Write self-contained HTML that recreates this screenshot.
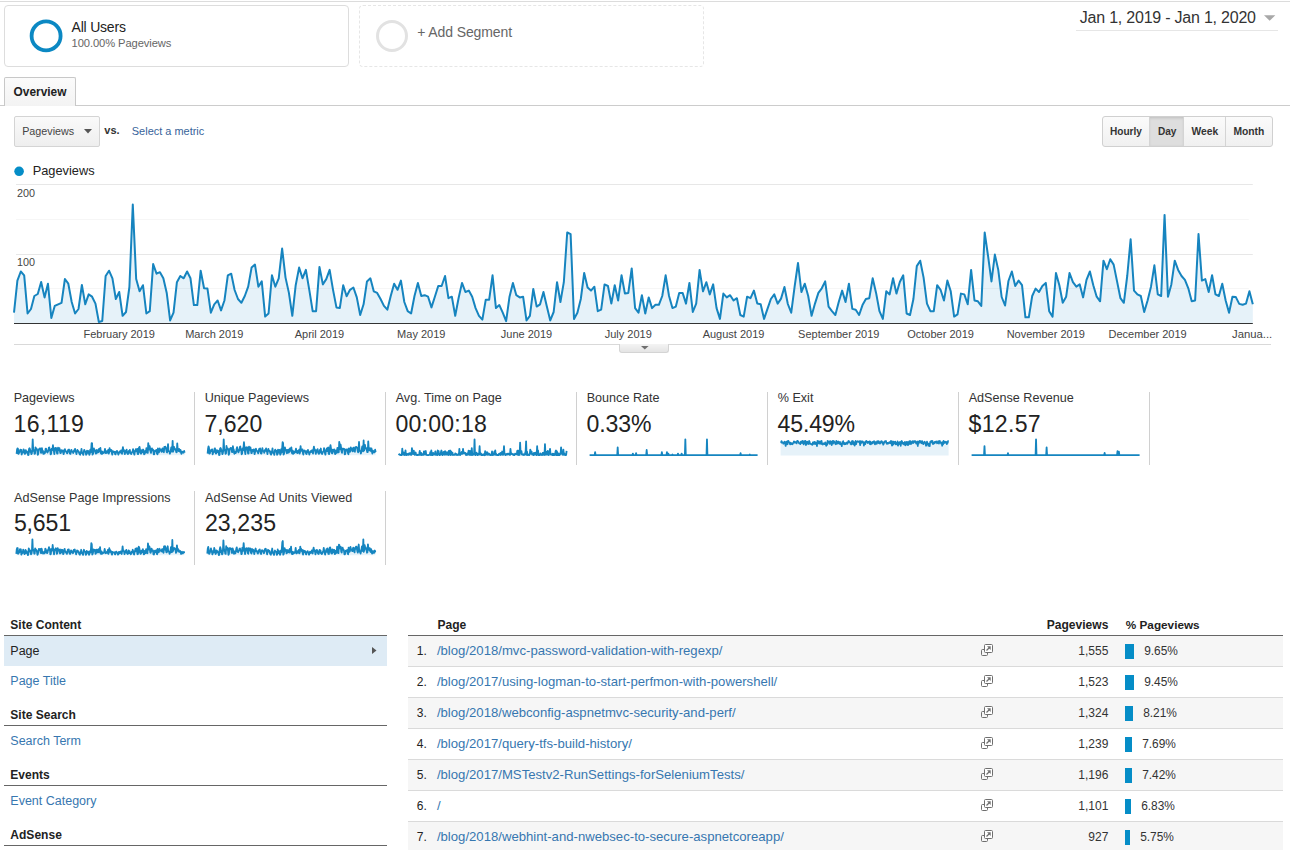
<!DOCTYPE html>
<html><head><meta charset="utf-8"><title>Analytics - Site Content</title>
<style>
html,body{margin:0;padding:0;background:#fff;}
body{width:1290px;height:850px;overflow:hidden;position:relative;font-family:"Liberation Sans", Arial, sans-serif;}
.t{position:absolute;line-height:1;white-space:nowrap;}
.r{position:absolute;}
</style></head><body>
<div class="r" style="left:0px;top:1px;width:1290px;height:1px;background:#dcdcdc"></div>
<div class="r" style="left:4px;top:5px;width:345px;height:62px;border:1px solid #dddddd;border-radius:4px;box-sizing:border-box;background:#fff"></div>
<svg class="r" style="left:28px;top:18px" width="36" height="36"><circle cx="18.1" cy="17.9" r="14.5" fill="none" stroke="#0b88c3" stroke-width="3.8"/></svg>
<div class="r" style="left:359px;top:5px;width:345px;height:62px;border:1px dashed #e6e6e6;border-radius:4px;box-sizing:border-box"></div>
<svg class="r" style="left:374px;top:18px" width="36" height="36"><circle cx="18" cy="18" r="14.5" fill="none" stroke="#e2e2e2" stroke-width="3"/></svg>
<svg class="r" style="left:1263px;top:15px" width="14" height="7"><path d="M1 0.3 L12.3 0.3 L6.65 5.8 Z" fill="#a8a8a8"/></svg>
<div class="r" style="left:1076px;top:30px;width:202px;height:1px;background:#e6e6e6"></div>
<div class="r" style="left:0px;top:105px;width:1290px;height:1px;background:#cccccc"></div>
<div class="r" style="left:4px;top:77px;width:72px;height:29px;border:1px solid #c8c8c8;border-bottom:none;box-sizing:border-box;background:linear-gradient(#fbfbfb,#f3f3f3);border-radius:2px 2px 0 0"></div>
<div class="r" style="left:14px;top:116px;width:86px;height:31px;border:1px solid #d4d4d4;border-radius:2px;box-sizing:border-box;background:linear-gradient(#fafafa,#eeeeee)"></div>
<svg class="r" style="left:84px;top:129px" width="9" height="5"><path d="M0 0 L8 0 L4 4.5 Z" fill="#555"/></svg>
<div class="r" style="left:1102px;top:116px;width:171px;height:31px;border:1px solid #d0d0d0;border-radius:3px;box-sizing:border-box;background:linear-gradient(#fbfbfb,#f0f0f0)"></div>
<div class="r" style="left:1149px;top:117px;width:35px;height:29px;background:#dedede;box-shadow:inset 0 1px 3px rgba(0,0,0,0.15)"></div>
<div class="r" style="left:1149px;top:117px;width:1px;height:29px;background:#d4d4d4"></div>
<div class="r" style="left:1183px;top:117px;width:1px;height:29px;background:#d4d4d4"></div>
<div class="r" style="left:1225px;top:117px;width:1px;height:29px;background:#d4d4d4"></div>
<svg class="r" style="left:14px;top:166px" width="11" height="11"><circle cx="5.1" cy="5.3" r="4.8" fill="#058dc7"/></svg>
<svg class="r" style="left:0;top:180px" width="1290" height="180" viewBox="0 180 1290 180"><polygon points="14.0,323.5 14.00,312.7 17.39,280.6 20.79,271.5 24.18,275.3 27.58,313.5 30.97,309.0 34.36,296.0 37.76,294.0 41.15,282.0 44.55,297.4 47.94,283.7 51.33,318.0 54.73,305.9 58.12,304.3 61.52,302.8 64.91,279.0 68.30,283.7 71.70,302.0 75.09,313.5 78.49,309.0 81.88,285.0 85.27,304.3 88.67,294.4 92.06,296.7 95.46,303.6 98.85,322.0 102.24,321.0 105.64,276.0 109.03,270.7 112.43,278.3 115.82,299.0 119.21,292.0 122.61,315.8 126.00,312.0 129.40,287.0 132.79,204.5 136.18,279.1 139.58,291.3 142.97,285.2 146.37,313.5 149.76,311.2 153.15,264.1 156.55,273.7 159.94,272.2 163.34,278.3 166.73,292.9 170.12,320.4 173.52,312.7 176.91,282.2 180.31,276.0 183.70,278.3 187.09,271.5 190.49,278.3 193.88,305.1 197.28,305.1 200.67,270.7 204.06,288.3 207.46,288.6 210.85,312.7 214.25,304.3 217.64,300.5 221.03,310.4 224.43,300.5 227.82,275.3 231.22,273.7 234.61,290.0 238.00,299.0 241.40,302.8 244.79,296.0 248.19,286.7 251.58,267.6 254.97,264.6 258.37,286.7 261.76,281.4 265.16,316.6 268.55,313.5 271.94,275.3 275.34,286.7 278.73,278.3 282.13,248.5 285.52,277.6 288.91,292.9 292.31,315.8 295.70,285.2 299.10,267.6 302.49,278.3 305.88,269.9 309.28,289.8 312.67,311.2 316.07,311.2 319.46,266.9 322.85,284.4 326.25,279.1 329.64,269.9 333.04,289.8 336.43,307.4 339.82,308.1 343.22,285.2 346.61,296.3 350.01,289.8 353.40,287.5 356.79,297.4 360.19,315.0 363.58,304.3 366.98,281.4 370.37,278.3 373.76,291.3 377.16,292.9 380.55,299.0 383.95,305.9 387.34,309.7 390.73,296.0 394.13,283.7 397.52,289.8 400.92,280.6 404.31,302.0 407.70,311.2 411.10,313.5 414.49,296.0 417.89,282.9 421.28,296.0 424.67,295.2 428.07,296.7 431.46,307.4 434.86,296.7 438.25,286.0 441.64,286.0 445.04,276.0 448.43,298.2 451.83,296.7 455.22,315.8 458.61,298.0 462.01,282.9 465.40,292.0 468.80,290.6 472.19,296.7 475.58,308.1 478.98,315.8 482.37,319.6 485.77,299.7 489.16,299.7 492.55,275.3 495.95,308.1 499.34,305.1 502.74,312.7 506.13,321.1 509.52,296.7 512.92,282.9 516.31,295.2 519.71,297.4 523.10,296.7 526.49,320.4 529.89,315.8 533.28,289.0 536.68,306.6 540.07,304.3 543.46,292.0 546.86,306.6 550.25,320.4 553.65,312.0 557.04,282.2 560.43,302.0 563.83,282.2 567.22,232.5 570.62,234.2 574.01,318.9 577.40,312.7 580.80,299.0 584.19,273.0 587.59,287.5 590.98,290.6 594.37,286.7 597.77,311.2 601.16,309.7 604.56,284.4 607.95,286.0 611.34,303.6 614.74,285.2 618.13,300.5 621.53,275.3 624.92,293.6 628.31,292.9 631.71,268.4 635.10,308.1 638.50,312.7 641.89,295.2 645.28,313.5 648.68,297.4 652.07,308.1 655.47,304.8 658.86,304.8 662.25,296.0 665.65,275.3 669.04,296.0 672.44,308.1 675.83,306.6 679.22,292.9 682.62,292.9 686.01,303.6 689.41,282.9 692.80,312.0 696.19,303.6 699.59,269.9 702.98,291.3 706.38,282.2 709.77,294.4 713.16,284.4 716.56,308.1 719.95,318.9 723.35,293.6 726.74,297.4 730.13,295.2 733.53,300.5 736.92,298.2 740.32,315.0 743.71,316.6 747.10,296.7 750.50,298.2 753.89,290.6 757.29,303.6 760.68,304.3 764.07,318.9 767.47,308.9 770.86,299.0 774.26,294.4 777.65,303.6 781.04,298.6 784.44,287.0 787.83,304.0 791.23,312.7 794.62,286.7 798.01,263.0 801.41,292.0 804.80,283.7 808.20,296.0 811.59,315.8 814.98,303.6 818.38,292.9 821.77,288.3 825.17,281.4 828.56,306.6 831.95,311.2 835.35,315.0 838.74,302.0 842.14,290.6 845.53,302.0 848.92,283.7 852.32,308.9 855.71,309.7 859.11,315.0 862.50,305.1 865.89,299.0 869.29,298.2 872.68,278.3 876.08,292.9 879.47,311.2 882.86,318.9 886.26,291.3 889.65,294.4 893.05,278.3 896.44,293.6 899.83,282.0 903.23,275.3 906.62,313.5 910.02,315.0 913.41,299.0 916.80,266.1 920.20,260.7 923.59,277.6 926.99,303.6 930.38,311.2 933.77,311.2 937.17,285.2 940.56,289.8 943.96,300.5 947.35,280.6 950.74,291.3 954.14,316.6 957.53,314.3 960.93,293.6 964.32,294.4 967.71,304.3 971.11,269.9 974.50,300.5 977.90,301.3 981.29,305.9 984.68,232.5 988.08,256.2 991.47,281.4 994.87,254.6 998.26,269.9 1001.65,297.0 1005.05,305.5 1008.44,281.0 1011.84,271.5 1015.23,286.0 1018.62,280.6 1022.02,285.2 1025.41,317.3 1028.81,317.3 1032.20,296.0 1035.59,288.6 1038.99,292.0 1042.38,286.0 1045.78,282.9 1049.17,311.2 1052.56,316.6 1055.96,273.0 1059.35,285.2 1062.75,302.8 1066.14,296.7 1069.53,273.0 1072.93,282.2 1076.32,286.7 1079.72,284.4 1083.11,297.4 1086.50,279.9 1089.90,271.5 1093.29,285.2 1096.69,296.7 1100.08,301.3 1103.47,260.7 1106.87,269.2 1110.26,259.2 1113.66,264.6 1117.05,281.4 1120.44,298.2 1123.84,302.8 1127.23,276.0 1130.63,239.3 1134.02,290.6 1137.41,294.4 1140.81,296.0 1144.20,312.0 1147.60,300.5 1150.99,286.7 1154.38,265.3 1157.78,294.4 1161.17,296.0 1164.57,214.9 1167.96,296.7 1171.35,284.4 1174.75,260.7 1178.14,269.9 1181.54,276.0 1184.93,279.9 1188.32,288.3 1191.72,301.3 1195.11,300.5 1198.51,234.0 1201.90,280.6 1205.29,279.1 1208.69,292.0 1212.08,275.3 1215.48,294.4 1218.87,296.0 1222.26,283.7 1225.66,300.5 1229.05,312.7 1232.45,296.7 1235.84,297.1 1239.23,303.9 1242.63,304.8 1246.02,303.6 1249.42,291.3 1252.81,304.3 1252.81,323.5" fill="#e6f2f9"/><rect x="16" y="184" width="1236.8" height="1" fill="#000" fill-opacity="0.095"/><rect x="16" y="219" width="1232.8" height="1" fill="#000" fill-opacity="0.035"/><rect x="16" y="254" width="1236.8" height="1" fill="#000" fill-opacity="0.095"/><rect x="16" y="288" width="1232.8" height="1" fill="#000" fill-opacity="0.035"/><polyline points="14.00,312.7 17.39,280.6 20.79,271.5 24.18,275.3 27.58,313.5 30.97,309.0 34.36,296.0 37.76,294.0 41.15,282.0 44.55,297.4 47.94,283.7 51.33,318.0 54.73,305.9 58.12,304.3 61.52,302.8 64.91,279.0 68.30,283.7 71.70,302.0 75.09,313.5 78.49,309.0 81.88,285.0 85.27,304.3 88.67,294.4 92.06,296.7 95.46,303.6 98.85,322.0 102.24,321.0 105.64,276.0 109.03,270.7 112.43,278.3 115.82,299.0 119.21,292.0 122.61,315.8 126.00,312.0 129.40,287.0 132.79,204.5 136.18,279.1 139.58,291.3 142.97,285.2 146.37,313.5 149.76,311.2 153.15,264.1 156.55,273.7 159.94,272.2 163.34,278.3 166.73,292.9 170.12,320.4 173.52,312.7 176.91,282.2 180.31,276.0 183.70,278.3 187.09,271.5 190.49,278.3 193.88,305.1 197.28,305.1 200.67,270.7 204.06,288.3 207.46,288.6 210.85,312.7 214.25,304.3 217.64,300.5 221.03,310.4 224.43,300.5 227.82,275.3 231.22,273.7 234.61,290.0 238.00,299.0 241.40,302.8 244.79,296.0 248.19,286.7 251.58,267.6 254.97,264.6 258.37,286.7 261.76,281.4 265.16,316.6 268.55,313.5 271.94,275.3 275.34,286.7 278.73,278.3 282.13,248.5 285.52,277.6 288.91,292.9 292.31,315.8 295.70,285.2 299.10,267.6 302.49,278.3 305.88,269.9 309.28,289.8 312.67,311.2 316.07,311.2 319.46,266.9 322.85,284.4 326.25,279.1 329.64,269.9 333.04,289.8 336.43,307.4 339.82,308.1 343.22,285.2 346.61,296.3 350.01,289.8 353.40,287.5 356.79,297.4 360.19,315.0 363.58,304.3 366.98,281.4 370.37,278.3 373.76,291.3 377.16,292.9 380.55,299.0 383.95,305.9 387.34,309.7 390.73,296.0 394.13,283.7 397.52,289.8 400.92,280.6 404.31,302.0 407.70,311.2 411.10,313.5 414.49,296.0 417.89,282.9 421.28,296.0 424.67,295.2 428.07,296.7 431.46,307.4 434.86,296.7 438.25,286.0 441.64,286.0 445.04,276.0 448.43,298.2 451.83,296.7 455.22,315.8 458.61,298.0 462.01,282.9 465.40,292.0 468.80,290.6 472.19,296.7 475.58,308.1 478.98,315.8 482.37,319.6 485.77,299.7 489.16,299.7 492.55,275.3 495.95,308.1 499.34,305.1 502.74,312.7 506.13,321.1 509.52,296.7 512.92,282.9 516.31,295.2 519.71,297.4 523.10,296.7 526.49,320.4 529.89,315.8 533.28,289.0 536.68,306.6 540.07,304.3 543.46,292.0 546.86,306.6 550.25,320.4 553.65,312.0 557.04,282.2 560.43,302.0 563.83,282.2 567.22,232.5 570.62,234.2 574.01,318.9 577.40,312.7 580.80,299.0 584.19,273.0 587.59,287.5 590.98,290.6 594.37,286.7 597.77,311.2 601.16,309.7 604.56,284.4 607.95,286.0 611.34,303.6 614.74,285.2 618.13,300.5 621.53,275.3 624.92,293.6 628.31,292.9 631.71,268.4 635.10,308.1 638.50,312.7 641.89,295.2 645.28,313.5 648.68,297.4 652.07,308.1 655.47,304.8 658.86,304.8 662.25,296.0 665.65,275.3 669.04,296.0 672.44,308.1 675.83,306.6 679.22,292.9 682.62,292.9 686.01,303.6 689.41,282.9 692.80,312.0 696.19,303.6 699.59,269.9 702.98,291.3 706.38,282.2 709.77,294.4 713.16,284.4 716.56,308.1 719.95,318.9 723.35,293.6 726.74,297.4 730.13,295.2 733.53,300.5 736.92,298.2 740.32,315.0 743.71,316.6 747.10,296.7 750.50,298.2 753.89,290.6 757.29,303.6 760.68,304.3 764.07,318.9 767.47,308.9 770.86,299.0 774.26,294.4 777.65,303.6 781.04,298.6 784.44,287.0 787.83,304.0 791.23,312.7 794.62,286.7 798.01,263.0 801.41,292.0 804.80,283.7 808.20,296.0 811.59,315.8 814.98,303.6 818.38,292.9 821.77,288.3 825.17,281.4 828.56,306.6 831.95,311.2 835.35,315.0 838.74,302.0 842.14,290.6 845.53,302.0 848.92,283.7 852.32,308.9 855.71,309.7 859.11,315.0 862.50,305.1 865.89,299.0 869.29,298.2 872.68,278.3 876.08,292.9 879.47,311.2 882.86,318.9 886.26,291.3 889.65,294.4 893.05,278.3 896.44,293.6 899.83,282.0 903.23,275.3 906.62,313.5 910.02,315.0 913.41,299.0 916.80,266.1 920.20,260.7 923.59,277.6 926.99,303.6 930.38,311.2 933.77,311.2 937.17,285.2 940.56,289.8 943.96,300.5 947.35,280.6 950.74,291.3 954.14,316.6 957.53,314.3 960.93,293.6 964.32,294.4 967.71,304.3 971.11,269.9 974.50,300.5 977.90,301.3 981.29,305.9 984.68,232.5 988.08,256.2 991.47,281.4 994.87,254.6 998.26,269.9 1001.65,297.0 1005.05,305.5 1008.44,281.0 1011.84,271.5 1015.23,286.0 1018.62,280.6 1022.02,285.2 1025.41,317.3 1028.81,317.3 1032.20,296.0 1035.59,288.6 1038.99,292.0 1042.38,286.0 1045.78,282.9 1049.17,311.2 1052.56,316.6 1055.96,273.0 1059.35,285.2 1062.75,302.8 1066.14,296.7 1069.53,273.0 1072.93,282.2 1076.32,286.7 1079.72,284.4 1083.11,297.4 1086.50,279.9 1089.90,271.5 1093.29,285.2 1096.69,296.7 1100.08,301.3 1103.47,260.7 1106.87,269.2 1110.26,259.2 1113.66,264.6 1117.05,281.4 1120.44,298.2 1123.84,302.8 1127.23,276.0 1130.63,239.3 1134.02,290.6 1137.41,294.4 1140.81,296.0 1144.20,312.0 1147.60,300.5 1150.99,286.7 1154.38,265.3 1157.78,294.4 1161.17,296.0 1164.57,214.9 1167.96,296.7 1171.35,284.4 1174.75,260.7 1178.14,269.9 1181.54,276.0 1184.93,279.9 1188.32,288.3 1191.72,301.3 1195.11,300.5 1198.51,234.0 1201.90,280.6 1205.29,279.1 1208.69,292.0 1212.08,275.3 1215.48,294.4 1218.87,296.0 1222.26,283.7 1225.66,300.5 1229.05,312.7 1232.45,296.7 1235.84,297.1 1239.23,303.9 1242.63,304.8 1246.02,303.6 1249.42,291.3 1252.81,304.3" fill="none" stroke="#1684bf" stroke-width="2" stroke-linejoin="round"/><rect x="14" y="323" width="1238.8" height="1" fill="#333"/><rect x="14" y="344" width="1257" height="1" fill="#d9d9d9"/></svg>
<div class="r" style="left:619px;top:344px;width:50px;height:9px;border:1px solid #d4d4d4;border-top:none;border-radius:0 0 3px 3px;box-sizing:border-box;background:linear-gradient(#f4f4f4,#e4e4e4)"></div>
<svg class="r" style="left:640.5px;top:345.8px" width="9" height="5"><path d="M0 0 L7.6 0 L3.8 3.6 Z" fill="#707070"/></svg>
<div class="r" style="left:194px;top:392px;width:1px;height:73px;background:#d0d0d0"></div>
<svg class="r" style="left:0;top:0" width="1290" height="850"><polygon points="16.599999999999998,455.2 16.60,453.79 17.06,449.52 17.52,448.31 17.98,448.82 18.44,453.90 18.90,453.30 19.36,451.57 19.82,451.30 20.28,449.71 20.74,451.76 21.20,449.93 21.66,454.50 22.12,452.89 22.58,452.67 23.04,452.47 23.50,449.31 23.96,449.93 24.42,452.37 24.88,453.90 25.35,453.30 25.81,450.11 26.27,452.67 26.73,451.36 27.19,451.66 27.65,452.58 28.11,455.03 28.57,454.89 29.03,448.91 29.49,448.20 29.95,449.22 30.41,451.97 30.87,451.04 31.33,454.20 31.79,453.70 32.25,450.37 32.71,439.40 33.17,449.32 33.63,450.94 34.09,450.13 34.55,453.90 35.01,453.59 35.47,447.33 35.93,448.60 36.39,448.40 36.85,449.22 37.31,451.16 37.77,454.81 38.23,453.79 38.69,449.73 39.15,448.91 39.61,449.22 40.07,448.31 40.53,449.22 40.99,452.78 41.45,452.78 41.92,448.20 42.38,450.55 42.84,450.59 43.30,453.79 43.76,452.67 44.22,452.17 44.68,453.48 45.14,452.17 45.60,448.82 46.06,448.60 46.52,450.77 46.98,451.97 47.44,452.47 47.90,451.57 48.36,450.33 48.82,447.79 49.28,447.39 49.74,450.33 50.20,449.63 50.66,454.31 51.12,453.90 51.58,448.82 52.04,450.33 52.50,449.22 52.96,445.25 53.42,449.12 53.88,451.16 54.34,454.20 54.80,450.13 55.26,447.79 55.72,449.22 56.18,448.10 56.64,450.74 57.10,453.59 57.56,453.59 58.02,447.70 58.48,450.03 58.95,449.32 59.41,448.10 59.87,450.74 60.33,453.09 60.79,453.18 61.25,450.13 61.71,451.61 62.17,450.74 62.63,450.44 63.09,451.76 63.55,454.10 64.01,452.67 64.47,449.63 64.93,449.22 65.39,450.94 65.85,451.16 66.31,451.97 66.77,452.89 67.23,453.39 67.69,451.57 68.15,449.93 68.61,450.74 69.07,449.52 69.53,452.37 69.99,453.59 70.45,453.90 70.91,451.57 71.37,449.83 71.83,451.57 72.29,451.46 72.75,451.66 73.21,453.09 73.67,451.66 74.13,450.24 74.59,450.24 75.05,448.91 75.52,451.86 75.98,451.66 76.44,454.20 76.90,451.84 77.36,449.83 77.82,451.04 78.28,450.85 78.74,451.66 79.20,453.18 79.66,454.20 80.12,454.71 80.58,452.06 81.04,452.06 81.50,448.82 81.96,453.18 82.42,452.78 82.88,453.79 83.34,454.91 83.80,451.66 84.26,449.83 84.72,451.46 85.18,451.76 85.64,451.66 86.10,454.81 86.56,454.20 87.02,450.64 87.48,452.98 87.94,452.67 88.40,451.04 88.86,452.98 89.32,454.81 89.78,453.70 90.24,449.73 90.70,452.37 91.16,449.73 91.62,443.12 92.08,443.35 92.55,454.61 93.01,453.79 93.47,451.97 93.93,448.51 94.39,450.44 94.85,450.85 95.31,450.33 95.77,453.59 96.23,453.39 96.69,450.03 97.15,450.24 97.61,452.58 98.07,450.13 98.53,452.17 98.99,448.82 99.45,451.25 99.91,451.16 100.37,447.90 100.83,453.18 101.29,453.79 101.75,451.46 102.21,453.90 102.67,451.76 103.13,453.18 103.59,452.74 104.05,452.74 104.51,451.57 104.97,448.82 105.43,451.57 105.89,453.18 106.35,452.98 106.81,451.16 107.27,451.16 107.73,452.58 108.19,449.83 108.65,453.70 109.12,452.58 109.58,448.10 110.04,450.94 110.50,449.73 110.96,451.36 111.42,450.03 111.88,453.18 112.34,454.61 112.80,451.25 113.26,451.76 113.72,451.46 114.18,452.17 114.64,451.86 115.10,454.10 115.56,454.31 116.02,451.66 116.48,451.86 116.94,450.85 117.40,452.58 117.86,452.67 118.32,454.61 118.78,453.28 119.24,451.97 119.70,451.36 120.16,452.58 120.62,451.91 121.08,450.37 121.54,452.63 122.00,453.79 122.46,450.33 122.92,447.18 123.38,451.04 123.84,449.93 124.30,451.57 124.76,454.20 125.22,452.58 125.68,451.16 126.15,450.55 126.61,449.63 127.07,452.98 127.53,453.59 127.99,454.10 128.45,452.37 128.91,450.85 129.37,452.37 129.83,449.93 130.29,453.28 130.75,453.39 131.21,454.10 131.67,452.78 132.13,451.97 132.59,451.86 133.05,449.22 133.51,451.16 133.97,453.59 134.43,454.61 134.89,450.94 135.35,451.36 135.81,449.22 136.27,451.25 136.73,449.71 137.19,448.82 137.65,453.90 138.11,454.10 138.57,451.97 139.03,447.59 139.49,446.87 139.95,449.12 140.41,452.58 140.87,453.59 141.33,453.59 141.79,450.13 142.25,450.74 142.72,452.17 143.18,449.52 143.64,450.94 144.10,454.31 144.56,454.00 145.02,451.25 145.48,451.36 145.94,452.67 146.40,448.10 146.86,452.17 147.32,452.27 147.78,452.89 148.24,443.12 148.70,446.28 149.16,449.63 149.62,446.06 150.08,448.10 150.54,451.70 151.00,452.83 151.46,449.57 151.92,448.31 152.38,450.24 152.84,449.52 153.30,450.13 153.76,454.40 154.22,454.40 154.68,451.57 155.14,450.59 155.60,451.04 156.06,450.24 156.52,449.83 156.98,453.59 157.44,454.31 157.90,448.51 158.36,450.13 158.82,452.47 159.28,451.66 159.75,448.51 160.21,449.73 160.67,450.33 161.13,450.03 161.59,451.76 162.05,449.43 162.51,448.31 162.97,450.13 163.43,451.66 163.89,452.27 164.35,446.87 164.81,448.00 165.27,446.67 165.73,447.39 166.19,449.63 166.65,451.86 167.11,452.47 167.57,448.91 168.03,444.03 168.49,450.85 168.95,451.36 169.41,451.57 169.87,453.70 170.33,452.17 170.79,450.33 171.25,447.49 171.71,451.36 172.17,451.57 172.63,440.78 173.09,451.66 173.55,450.03 174.01,446.87 174.47,448.10 174.93,448.91 175.39,449.43 175.85,450.55 176.32,452.27 176.78,452.17 177.24,443.32 177.70,449.52 178.16,449.32 178.62,451.04 179.08,448.82 179.54,451.36 180.00,451.57 180.46,449.93 180.92,452.17 181.38,453.79 181.84,451.66 182.30,451.72 182.76,452.62 183.22,452.74 183.68,452.58 184.14,450.94 184.60,452.67 184.6,455.2" fill="#e6f2f9"/><polyline points="16.60,453.79 17.06,449.52 17.52,448.31 17.98,448.82 18.44,453.90 18.90,453.30 19.36,451.57 19.82,451.30 20.28,449.71 20.74,451.76 21.20,449.93 21.66,454.50 22.12,452.89 22.58,452.67 23.04,452.47 23.50,449.31 23.96,449.93 24.42,452.37 24.88,453.90 25.35,453.30 25.81,450.11 26.27,452.67 26.73,451.36 27.19,451.66 27.65,452.58 28.11,455.03 28.57,454.89 29.03,448.91 29.49,448.20 29.95,449.22 30.41,451.97 30.87,451.04 31.33,454.20 31.79,453.70 32.25,450.37 32.71,439.40 33.17,449.32 33.63,450.94 34.09,450.13 34.55,453.90 35.01,453.59 35.47,447.33 35.93,448.60 36.39,448.40 36.85,449.22 37.31,451.16 37.77,454.81 38.23,453.79 38.69,449.73 39.15,448.91 39.61,449.22 40.07,448.31 40.53,449.22 40.99,452.78 41.45,452.78 41.92,448.20 42.38,450.55 42.84,450.59 43.30,453.79 43.76,452.67 44.22,452.17 44.68,453.48 45.14,452.17 45.60,448.82 46.06,448.60 46.52,450.77 46.98,451.97 47.44,452.47 47.90,451.57 48.36,450.33 48.82,447.79 49.28,447.39 49.74,450.33 50.20,449.63 50.66,454.31 51.12,453.90 51.58,448.82 52.04,450.33 52.50,449.22 52.96,445.25 53.42,449.12 53.88,451.16 54.34,454.20 54.80,450.13 55.26,447.79 55.72,449.22 56.18,448.10 56.64,450.74 57.10,453.59 57.56,453.59 58.02,447.70 58.48,450.03 58.95,449.32 59.41,448.10 59.87,450.74 60.33,453.09 60.79,453.18 61.25,450.13 61.71,451.61 62.17,450.74 62.63,450.44 63.09,451.76 63.55,454.10 64.01,452.67 64.47,449.63 64.93,449.22 65.39,450.94 65.85,451.16 66.31,451.97 66.77,452.89 67.23,453.39 67.69,451.57 68.15,449.93 68.61,450.74 69.07,449.52 69.53,452.37 69.99,453.59 70.45,453.90 70.91,451.57 71.37,449.83 71.83,451.57 72.29,451.46 72.75,451.66 73.21,453.09 73.67,451.66 74.13,450.24 74.59,450.24 75.05,448.91 75.52,451.86 75.98,451.66 76.44,454.20 76.90,451.84 77.36,449.83 77.82,451.04 78.28,450.85 78.74,451.66 79.20,453.18 79.66,454.20 80.12,454.71 80.58,452.06 81.04,452.06 81.50,448.82 81.96,453.18 82.42,452.78 82.88,453.79 83.34,454.91 83.80,451.66 84.26,449.83 84.72,451.46 85.18,451.76 85.64,451.66 86.10,454.81 86.56,454.20 87.02,450.64 87.48,452.98 87.94,452.67 88.40,451.04 88.86,452.98 89.32,454.81 89.78,453.70 90.24,449.73 90.70,452.37 91.16,449.73 91.62,443.12 92.08,443.35 92.55,454.61 93.01,453.79 93.47,451.97 93.93,448.51 94.39,450.44 94.85,450.85 95.31,450.33 95.77,453.59 96.23,453.39 96.69,450.03 97.15,450.24 97.61,452.58 98.07,450.13 98.53,452.17 98.99,448.82 99.45,451.25 99.91,451.16 100.37,447.90 100.83,453.18 101.29,453.79 101.75,451.46 102.21,453.90 102.67,451.76 103.13,453.18 103.59,452.74 104.05,452.74 104.51,451.57 104.97,448.82 105.43,451.57 105.89,453.18 106.35,452.98 106.81,451.16 107.27,451.16 107.73,452.58 108.19,449.83 108.65,453.70 109.12,452.58 109.58,448.10 110.04,450.94 110.50,449.73 110.96,451.36 111.42,450.03 111.88,453.18 112.34,454.61 112.80,451.25 113.26,451.76 113.72,451.46 114.18,452.17 114.64,451.86 115.10,454.10 115.56,454.31 116.02,451.66 116.48,451.86 116.94,450.85 117.40,452.58 117.86,452.67 118.32,454.61 118.78,453.28 119.24,451.97 119.70,451.36 120.16,452.58 120.62,451.91 121.08,450.37 121.54,452.63 122.00,453.79 122.46,450.33 122.92,447.18 123.38,451.04 123.84,449.93 124.30,451.57 124.76,454.20 125.22,452.58 125.68,451.16 126.15,450.55 126.61,449.63 127.07,452.98 127.53,453.59 127.99,454.10 128.45,452.37 128.91,450.85 129.37,452.37 129.83,449.93 130.29,453.28 130.75,453.39 131.21,454.10 131.67,452.78 132.13,451.97 132.59,451.86 133.05,449.22 133.51,451.16 133.97,453.59 134.43,454.61 134.89,450.94 135.35,451.36 135.81,449.22 136.27,451.25 136.73,449.71 137.19,448.82 137.65,453.90 138.11,454.10 138.57,451.97 139.03,447.59 139.49,446.87 139.95,449.12 140.41,452.58 140.87,453.59 141.33,453.59 141.79,450.13 142.25,450.74 142.72,452.17 143.18,449.52 143.64,450.94 144.10,454.31 144.56,454.00 145.02,451.25 145.48,451.36 145.94,452.67 146.40,448.10 146.86,452.17 147.32,452.27 147.78,452.89 148.24,443.12 148.70,446.28 149.16,449.63 149.62,446.06 150.08,448.10 150.54,451.70 151.00,452.83 151.46,449.57 151.92,448.31 152.38,450.24 152.84,449.52 153.30,450.13 153.76,454.40 154.22,454.40 154.68,451.57 155.14,450.59 155.60,451.04 156.06,450.24 156.52,449.83 156.98,453.59 157.44,454.31 157.90,448.51 158.36,450.13 158.82,452.47 159.28,451.66 159.75,448.51 160.21,449.73 160.67,450.33 161.13,450.03 161.59,451.76 162.05,449.43 162.51,448.31 162.97,450.13 163.43,451.66 163.89,452.27 164.35,446.87 164.81,448.00 165.27,446.67 165.73,447.39 166.19,449.63 166.65,451.86 167.11,452.47 167.57,448.91 168.03,444.03 168.49,450.85 168.95,451.36 169.41,451.57 169.87,453.70 170.33,452.17 170.79,450.33 171.25,447.49 171.71,451.36 172.17,451.57 172.63,440.78 173.09,451.66 173.55,450.03 174.01,446.87 174.47,448.10 174.93,448.91 175.39,449.43 175.85,450.55 176.32,452.27 176.78,452.17 177.24,443.32 177.70,449.52 178.16,449.32 178.62,451.04 179.08,448.82 179.54,451.36 180.00,451.57 180.46,449.93 180.92,452.17 181.38,453.79 181.84,451.66 182.30,451.72 182.76,452.62 183.22,452.74 183.68,452.58 184.14,450.94 184.60,452.67" fill="none" stroke="#1585c0" stroke-width="1.8" stroke-linejoin="round"/></svg>
<div class="r" style="left:385px;top:392px;width:1px;height:73px;background:#d0d0d0"></div>
<svg class="r" style="left:0;top:0" width="1290" height="850"><polygon points="207.6,455.2 207.60,453.65 208.06,448.87 208.52,446.33 208.98,447.84 209.44,453.63 209.90,453.23 210.36,450.91 210.82,450.37 211.28,449.71 211.74,451.20 212.20,449.46 212.66,454.32 213.12,452.68 213.58,452.15 214.04,451.97 214.50,448.81 214.96,448.31 215.42,451.66 215.88,453.58 216.35,453.05 216.81,450.23 217.27,452.10 217.73,450.68 218.19,450.69 218.65,452.24 219.11,455.02 219.57,454.89 220.03,448.75 220.49,448.06 220.95,448.83 221.41,451.33 221.87,450.35 222.33,454.19 222.79,453.40 223.25,450.40 223.71,439.40 224.17,448.73 224.63,450.47 225.09,449.69 225.55,453.85 226.01,453.44 226.47,445.88 226.93,448.73 227.39,448.16 227.85,448.58 228.31,450.79 228.77,454.78 229.23,453.39 229.69,448.79 230.15,448.91 230.61,447.79 231.07,447.78 231.53,449.24 231.99,452.16 232.45,452.14 232.92,446.27 233.38,449.21 233.84,449.84 234.30,453.74 234.76,452.25 235.22,451.91 235.68,453.09 236.14,451.98 236.60,448.77 237.06,447.15 237.52,450.68 237.98,451.04 238.44,452.44 238.90,451.28 239.36,449.60 239.82,447.10 240.28,446.50 240.74,450.19 241.20,449.42 241.66,454.28 242.12,453.58 242.58,448.37 243.04,450.33 243.50,447.60 243.96,442.22 244.42,447.45 244.88,451.22 245.34,454.14 245.80,448.64 246.26,447.28 246.72,448.97 247.18,447.35 247.64,450.61 248.10,453.60 248.56,453.36 249.02,446.67 249.48,449.82 249.95,449.28 250.41,447.37 250.87,450.02 251.33,453.07 251.79,453.17 252.25,449.89 252.71,451.18 253.17,450.12 253.63,449.36 254.09,451.11 254.55,454.13 255.01,452.53 255.47,449.29 255.93,448.72 256.39,450.30 256.85,450.72 257.31,451.50 257.77,452.29 258.23,453.39 258.69,451.14 259.15,448.95 259.61,450.06 260.07,448.41 260.53,451.54 260.99,453.43 261.45,453.52 261.91,451.21 262.37,448.23 262.83,450.63 263.29,450.89 263.75,451.06 264.21,452.85 264.67,451.18 265.13,449.92 265.59,449.73 266.05,448.45 266.52,451.37 266.98,451.20 267.44,454.14 267.90,450.88 268.36,448.79 268.82,450.11 269.28,450.95 269.74,450.85 270.20,452.84 270.66,454.02 271.12,454.66 271.58,451.43 272.04,452.11 272.50,448.34 272.96,452.97 273.42,452.38 273.88,453.49 274.34,454.89 274.80,450.82 275.26,449.59 275.72,450.67 276.18,451.57 276.64,450.87 277.10,454.82 277.56,454.20 278.02,449.53 278.48,452.36 278.94,452.63 279.40,449.81 279.86,452.87 280.32,454.73 280.78,453.72 281.24,449.14 281.70,452.35 282.16,448.31 282.62,442.05 283.08,443.12 283.55,454.56 284.01,453.77 284.47,451.61 284.93,447.36 285.39,449.56 285.85,449.98 286.31,449.89 286.77,453.24 287.23,452.95 287.69,449.96 288.15,449.91 288.61,452.55 289.07,449.47 289.53,451.75 289.99,448.35 290.45,450.70 290.91,450.12 291.37,447.45 291.83,452.82 292.29,453.49 292.75,450.69 293.21,453.86 293.67,451.54 294.13,453.08 294.59,452.02 295.05,452.40 295.51,450.88 295.97,448.60 296.43,450.84 296.89,452.81 297.35,453.05 297.81,450.93 298.27,451.25 298.73,452.63 299.19,449.60 299.65,453.60 300.12,451.99 300.58,446.12 301.04,450.85 301.50,449.48 301.96,450.20 302.42,449.34 302.88,453.00 303.34,454.57 303.80,450.71 304.26,451.71 304.72,450.48 305.18,451.44 305.64,451.46 306.10,453.82 306.56,454.08 307.02,450.85 307.48,451.47 307.94,449.89 308.40,452.32 308.86,452.63 309.32,454.60 309.78,452.80 310.24,451.42 310.70,451.10 311.16,451.99 311.62,451.10 312.08,450.23 312.54,452.15 313.00,453.56 313.46,449.73 313.92,446.56 314.38,450.40 314.84,449.33 315.30,450.99 315.76,453.96 316.22,452.25 316.68,450.15 317.15,450.68 317.61,449.22 318.07,452.36 318.53,453.31 318.99,453.87 319.45,451.98 319.91,449.86 320.37,452.14 320.83,448.52 321.29,453.21 321.75,453.05 322.21,454.01 322.67,452.11 323.13,451.72 323.59,451.47 324.05,448.20 324.51,450.05 324.97,453.27 325.43,454.58 325.89,450.31 326.35,450.18 326.81,448.48 327.27,451.08 327.73,448.07 328.19,447.44 328.65,453.71 329.11,454.10 329.57,451.16 330.03,447.78 330.49,445.23 330.95,448.11 331.41,451.95 331.87,453.24 332.33,453.44 332.79,449.63 333.25,450.66 333.72,451.66 334.18,449.36 334.64,450.95 335.10,454.20 335.56,453.69 336.02,450.29 336.48,451.19 336.94,452.71 337.40,447.95 337.86,451.96 338.32,452.35 338.78,452.30 339.24,441.78 339.70,444.80 340.16,449.23 340.62,444.66 341.08,447.52 341.54,451.49 342.00,452.83 342.46,449.16 342.92,448.48 343.38,449.30 343.84,449.52 344.30,448.89 344.76,454.31 345.22,454.23 345.68,451.08 346.14,449.31 346.60,450.69 347.06,449.63 347.52,449.36 347.98,453.20 348.44,454.24 348.90,448.42 349.36,449.46 349.82,451.81 350.28,451.69 350.75,447.32 351.21,449.83 351.67,449.24 352.13,448.46 352.59,451.46 353.05,449.61 353.51,447.65 353.97,450.15 354.43,451.22 354.89,451.83 355.35,447.08 355.81,447.35 356.27,446.93 356.73,447.36 357.19,448.05 357.65,450.93 358.11,452.33 358.57,448.77 359.03,441.98 359.49,449.98 359.95,451.06 360.41,451.21 360.87,453.48 361.33,451.98 361.79,449.02 362.25,446.50 362.71,450.52 363.17,451.31 363.63,440.49 364.09,450.67 364.55,448.59 365.01,445.01 365.47,448.29 365.93,448.08 366.39,448.04 366.85,450.20 367.32,452.17 367.78,451.90 368.24,441.33 368.70,448.55 369.16,448.57 369.62,450.45 370.08,448.06 370.54,450.31 371.00,451.19 371.46,448.47 371.92,451.30 372.38,453.54 372.84,450.64 373.30,451.18 373.76,451.95 374.22,452.41 374.68,452.31 375.14,449.70 375.60,452.19 375.6,455.2" fill="#e6f2f9"/><polyline points="207.60,453.65 208.06,448.87 208.52,446.33 208.98,447.84 209.44,453.63 209.90,453.23 210.36,450.91 210.82,450.37 211.28,449.71 211.74,451.20 212.20,449.46 212.66,454.32 213.12,452.68 213.58,452.15 214.04,451.97 214.50,448.81 214.96,448.31 215.42,451.66 215.88,453.58 216.35,453.05 216.81,450.23 217.27,452.10 217.73,450.68 218.19,450.69 218.65,452.24 219.11,455.02 219.57,454.89 220.03,448.75 220.49,448.06 220.95,448.83 221.41,451.33 221.87,450.35 222.33,454.19 222.79,453.40 223.25,450.40 223.71,439.40 224.17,448.73 224.63,450.47 225.09,449.69 225.55,453.85 226.01,453.44 226.47,445.88 226.93,448.73 227.39,448.16 227.85,448.58 228.31,450.79 228.77,454.78 229.23,453.39 229.69,448.79 230.15,448.91 230.61,447.79 231.07,447.78 231.53,449.24 231.99,452.16 232.45,452.14 232.92,446.27 233.38,449.21 233.84,449.84 234.30,453.74 234.76,452.25 235.22,451.91 235.68,453.09 236.14,451.98 236.60,448.77 237.06,447.15 237.52,450.68 237.98,451.04 238.44,452.44 238.90,451.28 239.36,449.60 239.82,447.10 240.28,446.50 240.74,450.19 241.20,449.42 241.66,454.28 242.12,453.58 242.58,448.37 243.04,450.33 243.50,447.60 243.96,442.22 244.42,447.45 244.88,451.22 245.34,454.14 245.80,448.64 246.26,447.28 246.72,448.97 247.18,447.35 247.64,450.61 248.10,453.60 248.56,453.36 249.02,446.67 249.48,449.82 249.95,449.28 250.41,447.37 250.87,450.02 251.33,453.07 251.79,453.17 252.25,449.89 252.71,451.18 253.17,450.12 253.63,449.36 254.09,451.11 254.55,454.13 255.01,452.53 255.47,449.29 255.93,448.72 256.39,450.30 256.85,450.72 257.31,451.50 257.77,452.29 258.23,453.39 258.69,451.14 259.15,448.95 259.61,450.06 260.07,448.41 260.53,451.54 260.99,453.43 261.45,453.52 261.91,451.21 262.37,448.23 262.83,450.63 263.29,450.89 263.75,451.06 264.21,452.85 264.67,451.18 265.13,449.92 265.59,449.73 266.05,448.45 266.52,451.37 266.98,451.20 267.44,454.14 267.90,450.88 268.36,448.79 268.82,450.11 269.28,450.95 269.74,450.85 270.20,452.84 270.66,454.02 271.12,454.66 271.58,451.43 272.04,452.11 272.50,448.34 272.96,452.97 273.42,452.38 273.88,453.49 274.34,454.89 274.80,450.82 275.26,449.59 275.72,450.67 276.18,451.57 276.64,450.87 277.10,454.82 277.56,454.20 278.02,449.53 278.48,452.36 278.94,452.63 279.40,449.81 279.86,452.87 280.32,454.73 280.78,453.72 281.24,449.14 281.70,452.35 282.16,448.31 282.62,442.05 283.08,443.12 283.55,454.56 284.01,453.77 284.47,451.61 284.93,447.36 285.39,449.56 285.85,449.98 286.31,449.89 286.77,453.24 287.23,452.95 287.69,449.96 288.15,449.91 288.61,452.55 289.07,449.47 289.53,451.75 289.99,448.35 290.45,450.70 290.91,450.12 291.37,447.45 291.83,452.82 292.29,453.49 292.75,450.69 293.21,453.86 293.67,451.54 294.13,453.08 294.59,452.02 295.05,452.40 295.51,450.88 295.97,448.60 296.43,450.84 296.89,452.81 297.35,453.05 297.81,450.93 298.27,451.25 298.73,452.63 299.19,449.60 299.65,453.60 300.12,451.99 300.58,446.12 301.04,450.85 301.50,449.48 301.96,450.20 302.42,449.34 302.88,453.00 303.34,454.57 303.80,450.71 304.26,451.71 304.72,450.48 305.18,451.44 305.64,451.46 306.10,453.82 306.56,454.08 307.02,450.85 307.48,451.47 307.94,449.89 308.40,452.32 308.86,452.63 309.32,454.60 309.78,452.80 310.24,451.42 310.70,451.10 311.16,451.99 311.62,451.10 312.08,450.23 312.54,452.15 313.00,453.56 313.46,449.73 313.92,446.56 314.38,450.40 314.84,449.33 315.30,450.99 315.76,453.96 316.22,452.25 316.68,450.15 317.15,450.68 317.61,449.22 318.07,452.36 318.53,453.31 318.99,453.87 319.45,451.98 319.91,449.86 320.37,452.14 320.83,448.52 321.29,453.21 321.75,453.05 322.21,454.01 322.67,452.11 323.13,451.72 323.59,451.47 324.05,448.20 324.51,450.05 324.97,453.27 325.43,454.58 325.89,450.31 326.35,450.18 326.81,448.48 327.27,451.08 327.73,448.07 328.19,447.44 328.65,453.71 329.11,454.10 329.57,451.16 330.03,447.78 330.49,445.23 330.95,448.11 331.41,451.95 331.87,453.24 332.33,453.44 332.79,449.63 333.25,450.66 333.72,451.66 334.18,449.36 334.64,450.95 335.10,454.20 335.56,453.69 336.02,450.29 336.48,451.19 336.94,452.71 337.40,447.95 337.86,451.96 338.32,452.35 338.78,452.30 339.24,441.78 339.70,444.80 340.16,449.23 340.62,444.66 341.08,447.52 341.54,451.49 342.00,452.83 342.46,449.16 342.92,448.48 343.38,449.30 343.84,449.52 344.30,448.89 344.76,454.31 345.22,454.23 345.68,451.08 346.14,449.31 346.60,450.69 347.06,449.63 347.52,449.36 347.98,453.20 348.44,454.24 348.90,448.42 349.36,449.46 349.82,451.81 350.28,451.69 350.75,447.32 351.21,449.83 351.67,449.24 352.13,448.46 352.59,451.46 353.05,449.61 353.51,447.65 353.97,450.15 354.43,451.22 354.89,451.83 355.35,447.08 355.81,447.35 356.27,446.93 356.73,447.36 357.19,448.05 357.65,450.93 358.11,452.33 358.57,448.77 359.03,441.98 359.49,449.98 359.95,451.06 360.41,451.21 360.87,453.48 361.33,451.98 361.79,449.02 362.25,446.50 362.71,450.52 363.17,451.31 363.63,440.49 364.09,450.67 364.55,448.59 365.01,445.01 365.47,448.29 365.93,448.08 366.39,448.04 366.85,450.20 367.32,452.17 367.78,451.90 368.24,441.33 368.70,448.55 369.16,448.57 369.62,450.45 370.08,448.06 370.54,450.31 371.00,451.19 371.46,448.47 371.92,451.30 372.38,453.54 372.84,450.64 373.30,451.18 373.76,451.95 374.22,452.41 374.68,452.31 375.14,449.70 375.60,452.19" fill="none" stroke="#1585c0" stroke-width="1.8" stroke-linejoin="round"/></svg>
<div class="r" style="left:576px;top:392px;width:1px;height:73px;background:#d0d0d0"></div>
<svg class="r" style="left:0;top:0" width="1290" height="850"><polygon points="398.59999999999997,455.2 398.60,455.10 399.06,454.48 399.52,454.11 399.98,454.88 400.44,454.93 400.90,455.14 401.36,454.68 401.82,455.06 402.28,448.56 402.74,454.07 403.20,453.17 403.66,452.48 404.12,455.13 404.58,454.68 405.04,454.83 405.50,450.46 405.96,454.49 406.42,455.07 406.88,454.03 407.35,454.83 407.81,454.19 408.27,453.68 408.73,454.84 409.19,453.46 409.65,454.20 410.11,452.97 410.57,454.72 411.03,454.89 411.49,454.78 411.95,448.09 412.41,452.41 412.87,453.82 413.33,453.99 413.79,450.62 414.25,453.73 414.71,454.76 415.17,453.31 415.63,452.49 416.09,454.78 416.55,454.91 417.01,455.13 417.47,454.71 417.93,455.04 418.39,454.65 418.85,454.92 419.31,453.45 419.77,450.85 420.23,454.94 420.69,454.64 421.15,452.87 421.61,455.05 422.07,454.89 422.53,454.24 422.99,454.94 423.45,454.84 423.92,451.34 424.38,453.79 424.84,454.50 425.30,451.09 425.76,451.03 426.22,454.95 426.68,454.80 427.14,455.16 427.60,455.10 428.06,455.17 428.52,455.10 428.98,454.97 429.44,454.65 429.90,454.38 430.36,452.04 430.82,455.12 431.28,450.48 431.74,453.96 432.20,455.14 432.66,455.03 433.12,452.84 433.58,454.60 434.04,454.38 434.50,454.53 434.96,453.33 435.42,451.32 435.88,454.97 436.34,454.71 436.80,453.58 437.26,455.06 437.72,450.50 438.18,451.01 438.64,451.20 439.10,454.87 439.56,455.18 440.02,455.02 440.48,454.76 440.95,452.03 441.41,450.49 441.87,452.27 442.33,455.06 442.79,455.07 443.25,453.43 443.71,451.94 444.17,453.56 444.63,454.78 445.09,451.08 445.55,453.96 446.01,454.70 446.47,454.69 446.93,452.18 447.39,454.60 447.85,454.35 448.31,455.10 448.77,451.01 449.23,454.68 449.69,451.43 450.15,450.46 450.61,455.19 451.07,451.46 451.53,453.39 451.99,454.65 452.45,452.70 452.91,455.01 453.37,454.83 453.83,454.94 454.29,454.62 454.75,454.91 455.21,453.42 455.67,454.62 456.13,453.90 456.59,454.54 457.05,455.08 457.52,454.69 457.98,454.90 458.44,453.86 458.90,454.87 459.36,448.88 459.82,454.85 460.28,455.02 460.74,453.93 461.20,453.61 461.66,452.04 462.12,453.93 462.58,453.69 463.04,448.88 463.50,453.38 463.96,453.46 464.42,452.57 464.88,453.38 465.34,452.91 465.80,454.92 466.26,455.05 466.72,454.78 467.18,453.43 467.64,454.75 468.10,454.39 468.56,450.55 469.02,454.60 469.48,454.89 469.94,450.94 470.40,454.93 470.86,454.14 471.32,455.00 471.78,448.09 472.24,454.01 472.70,454.99 473.16,453.92 473.62,454.58 474.08,453.34 474.55,439.40 475.01,454.71 475.47,455.12 475.93,454.62 476.39,452.57 476.85,454.62 477.31,453.68 477.77,455.16 478.23,454.03 478.69,454.61 479.15,453.55 479.61,446.19 480.07,454.65 480.53,454.14 480.99,453.40 481.45,455.12 481.91,454.27 482.37,455.10 482.83,455.07 483.29,455.01 483.75,454.20 484.21,454.34 484.67,455.19 485.13,451.25 485.59,453.87 486.05,454.90 486.51,453.00 486.97,452.07 487.43,453.51 487.89,454.88 488.35,453.33 488.81,454.67 489.27,453.76 489.73,454.98 490.19,455.12 490.65,454.73 491.12,455.10 491.58,454.67 492.04,451.40 492.50,455.05 492.96,454.91 493.42,454.92 493.88,454.59 494.34,451.75 494.80,454.59 495.26,450.46 495.72,454.96 496.18,453.93 496.64,454.88 497.10,455.03 497.56,454.95 498.02,455.19 498.48,455.05 498.94,453.90 499.40,453.74 499.86,453.46 500.32,454.99 500.78,452.88 501.24,453.75 501.70,454.67 502.16,451.52 502.62,453.54 503.08,454.87 503.54,453.51 504.00,446.19 504.46,453.44 504.92,453.69 505.38,455.18 505.84,454.97 506.30,454.67 506.76,453.77 507.22,453.71 507.68,454.56 508.15,453.62 508.61,453.89 509.07,454.48 509.53,454.25 509.99,455.03 510.45,448.88 510.91,453.33 511.37,454.08 511.83,453.70 512.29,453.79 512.75,454.47 513.21,455.04 513.67,454.18 514.13,454.55 514.59,455.03 515.05,453.69 515.51,454.20 515.97,453.98 516.43,454.42 516.89,452.74 517.35,450.64 517.81,454.91 518.27,450.55 518.73,455.03 519.19,454.60 519.65,454.83 520.11,442.56 520.57,452.93 521.03,451.86 521.49,451.30 521.95,454.63 522.41,454.54 522.87,454.89 523.33,454.19 523.79,454.98 524.25,454.67 524.72,454.73 525.18,452.96 525.64,451.28 526.10,441.30 526.56,454.95 527.02,451.63 527.48,454.93 527.94,455.17 528.40,454.67 528.86,454.61 529.32,455.03 529.78,454.33 530.24,449.67 530.70,450.99 531.16,453.41 531.62,451.74 532.08,454.51 532.54,454.00 533.00,453.75 533.46,455.17 533.92,452.94 534.38,454.13 534.84,454.73 535.30,452.56 535.76,454.19 536.22,454.07 536.68,455.10 537.14,446.19 537.60,454.29 538.06,450.47 538.52,455.11 538.98,455.14 539.44,455.14 539.90,455.04 540.36,453.45 540.82,454.05 541.28,454.87 541.75,454.99 542.21,455.02 542.67,452.95 543.13,453.77 543.59,452.69 544.05,455.04 544.51,454.92 544.97,444.14 545.43,453.24 545.89,454.75 546.35,451.96 546.81,454.57 547.27,454.61 547.73,450.87 548.19,452.60 548.65,455.10 549.11,453.71 549.57,451.25 550.03,448.88 550.49,453.87 550.95,454.71 551.41,454.62 551.87,454.18 552.33,455.04 552.79,453.68 553.25,455.16 553.71,453.83 554.17,455.06 554.63,454.55 555.09,454.91 555.55,451.47 556.01,450.46 556.47,455.04 556.93,451.30 557.39,455.19 557.85,453.72 558.32,455.04 558.78,453.40 559.24,455.18 559.70,454.93 560.16,454.32 560.62,453.63 561.08,447.30 561.54,452.42 562.00,452.65 562.46,454.72 562.92,454.60 563.38,449.67 563.84,454.94 564.30,453.37 564.76,454.95 565.22,454.58 565.68,455.17 566.14,454.95 566.60,450.79 566.5999999999999,455.2" fill="#e6f2f9"/><polyline points="398.60,455.10 399.06,454.48 399.52,454.11 399.98,454.88 400.44,454.93 400.90,455.14 401.36,454.68 401.82,455.06 402.28,448.56 402.74,454.07 403.20,453.17 403.66,452.48 404.12,455.13 404.58,454.68 405.04,454.83 405.50,450.46 405.96,454.49 406.42,455.07 406.88,454.03 407.35,454.83 407.81,454.19 408.27,453.68 408.73,454.84 409.19,453.46 409.65,454.20 410.11,452.97 410.57,454.72 411.03,454.89 411.49,454.78 411.95,448.09 412.41,452.41 412.87,453.82 413.33,453.99 413.79,450.62 414.25,453.73 414.71,454.76 415.17,453.31 415.63,452.49 416.09,454.78 416.55,454.91 417.01,455.13 417.47,454.71 417.93,455.04 418.39,454.65 418.85,454.92 419.31,453.45 419.77,450.85 420.23,454.94 420.69,454.64 421.15,452.87 421.61,455.05 422.07,454.89 422.53,454.24 422.99,454.94 423.45,454.84 423.92,451.34 424.38,453.79 424.84,454.50 425.30,451.09 425.76,451.03 426.22,454.95 426.68,454.80 427.14,455.16 427.60,455.10 428.06,455.17 428.52,455.10 428.98,454.97 429.44,454.65 429.90,454.38 430.36,452.04 430.82,455.12 431.28,450.48 431.74,453.96 432.20,455.14 432.66,455.03 433.12,452.84 433.58,454.60 434.04,454.38 434.50,454.53 434.96,453.33 435.42,451.32 435.88,454.97 436.34,454.71 436.80,453.58 437.26,455.06 437.72,450.50 438.18,451.01 438.64,451.20 439.10,454.87 439.56,455.18 440.02,455.02 440.48,454.76 440.95,452.03 441.41,450.49 441.87,452.27 442.33,455.06 442.79,455.07 443.25,453.43 443.71,451.94 444.17,453.56 444.63,454.78 445.09,451.08 445.55,453.96 446.01,454.70 446.47,454.69 446.93,452.18 447.39,454.60 447.85,454.35 448.31,455.10 448.77,451.01 449.23,454.68 449.69,451.43 450.15,450.46 450.61,455.19 451.07,451.46 451.53,453.39 451.99,454.65 452.45,452.70 452.91,455.01 453.37,454.83 453.83,454.94 454.29,454.62 454.75,454.91 455.21,453.42 455.67,454.62 456.13,453.90 456.59,454.54 457.05,455.08 457.52,454.69 457.98,454.90 458.44,453.86 458.90,454.87 459.36,448.88 459.82,454.85 460.28,455.02 460.74,453.93 461.20,453.61 461.66,452.04 462.12,453.93 462.58,453.69 463.04,448.88 463.50,453.38 463.96,453.46 464.42,452.57 464.88,453.38 465.34,452.91 465.80,454.92 466.26,455.05 466.72,454.78 467.18,453.43 467.64,454.75 468.10,454.39 468.56,450.55 469.02,454.60 469.48,454.89 469.94,450.94 470.40,454.93 470.86,454.14 471.32,455.00 471.78,448.09 472.24,454.01 472.70,454.99 473.16,453.92 473.62,454.58 474.08,453.34 474.55,439.40 475.01,454.71 475.47,455.12 475.93,454.62 476.39,452.57 476.85,454.62 477.31,453.68 477.77,455.16 478.23,454.03 478.69,454.61 479.15,453.55 479.61,446.19 480.07,454.65 480.53,454.14 480.99,453.40 481.45,455.12 481.91,454.27 482.37,455.10 482.83,455.07 483.29,455.01 483.75,454.20 484.21,454.34 484.67,455.19 485.13,451.25 485.59,453.87 486.05,454.90 486.51,453.00 486.97,452.07 487.43,453.51 487.89,454.88 488.35,453.33 488.81,454.67 489.27,453.76 489.73,454.98 490.19,455.12 490.65,454.73 491.12,455.10 491.58,454.67 492.04,451.40 492.50,455.05 492.96,454.91 493.42,454.92 493.88,454.59 494.34,451.75 494.80,454.59 495.26,450.46 495.72,454.96 496.18,453.93 496.64,454.88 497.10,455.03 497.56,454.95 498.02,455.19 498.48,455.05 498.94,453.90 499.40,453.74 499.86,453.46 500.32,454.99 500.78,452.88 501.24,453.75 501.70,454.67 502.16,451.52 502.62,453.54 503.08,454.87 503.54,453.51 504.00,446.19 504.46,453.44 504.92,453.69 505.38,455.18 505.84,454.97 506.30,454.67 506.76,453.77 507.22,453.71 507.68,454.56 508.15,453.62 508.61,453.89 509.07,454.48 509.53,454.25 509.99,455.03 510.45,448.88 510.91,453.33 511.37,454.08 511.83,453.70 512.29,453.79 512.75,454.47 513.21,455.04 513.67,454.18 514.13,454.55 514.59,455.03 515.05,453.69 515.51,454.20 515.97,453.98 516.43,454.42 516.89,452.74 517.35,450.64 517.81,454.91 518.27,450.55 518.73,455.03 519.19,454.60 519.65,454.83 520.11,442.56 520.57,452.93 521.03,451.86 521.49,451.30 521.95,454.63 522.41,454.54 522.87,454.89 523.33,454.19 523.79,454.98 524.25,454.67 524.72,454.73 525.18,452.96 525.64,451.28 526.10,441.30 526.56,454.95 527.02,451.63 527.48,454.93 527.94,455.17 528.40,454.67 528.86,454.61 529.32,455.03 529.78,454.33 530.24,449.67 530.70,450.99 531.16,453.41 531.62,451.74 532.08,454.51 532.54,454.00 533.00,453.75 533.46,455.17 533.92,452.94 534.38,454.13 534.84,454.73 535.30,452.56 535.76,454.19 536.22,454.07 536.68,455.10 537.14,446.19 537.60,454.29 538.06,450.47 538.52,455.11 538.98,455.14 539.44,455.14 539.90,455.04 540.36,453.45 540.82,454.05 541.28,454.87 541.75,454.99 542.21,455.02 542.67,452.95 543.13,453.77 543.59,452.69 544.05,455.04 544.51,454.92 544.97,444.14 545.43,453.24 545.89,454.75 546.35,451.96 546.81,454.57 547.27,454.61 547.73,450.87 548.19,452.60 548.65,455.10 549.11,453.71 549.57,451.25 550.03,448.88 550.49,453.87 550.95,454.71 551.41,454.62 551.87,454.18 552.33,455.04 552.79,453.68 553.25,455.16 553.71,453.83 554.17,455.06 554.63,454.55 555.09,454.91 555.55,451.47 556.01,450.46 556.47,455.04 556.93,451.30 557.39,455.19 557.85,453.72 558.32,455.04 558.78,453.40 559.24,455.18 559.70,454.93 560.16,454.32 560.62,453.63 561.08,447.30 561.54,452.42 562.00,452.65 562.46,454.72 562.92,454.60 563.38,449.67 563.84,454.94 564.30,453.37 564.76,454.95 565.22,454.58 565.68,455.17 566.14,454.95 566.60,450.79" fill="none" stroke="#1585c0" stroke-width="1.8" stroke-linejoin="round"/></svg>
<div class="r" style="left:767px;top:392px;width:1px;height:73px;background:#d0d0d0"></div>
<svg class="r" style="left:0;top:0" width="1290" height="850"><polygon points="589.6,455.2 589.60,455.20 590.06,455.20 590.52,455.20 590.98,455.20 591.44,455.20 591.90,455.20 592.36,455.20 592.82,455.20 593.28,455.20 593.74,455.20 594.20,455.20 594.66,455.20 595.12,452.04 595.58,455.20 596.04,455.20 596.50,455.20 596.96,455.20 597.42,455.20 597.88,455.20 598.35,455.20 598.81,455.20 599.27,455.20 599.73,455.20 600.19,455.20 600.65,455.20 601.11,455.20 601.57,455.20 602.03,455.20 602.49,455.20 602.95,455.20 603.41,455.20 603.87,455.20 604.33,455.20 604.79,455.20 605.25,455.20 605.71,455.20 606.17,455.20 606.63,455.20 607.09,455.20 607.55,455.20 608.01,455.20 608.47,455.20 608.93,455.20 609.39,455.20 609.85,455.20 610.31,455.20 610.77,455.20 611.23,455.20 611.69,455.20 612.15,455.20 612.61,455.20 613.07,455.20 613.53,455.20 613.99,455.20 614.45,455.20 614.92,455.20 615.38,455.20 615.84,455.20 616.30,455.20 616.76,455.20 617.22,455.20 617.68,447.30 618.14,455.20 618.60,455.20 619.06,455.20 619.52,455.20 619.98,455.20 620.44,455.20 620.90,455.20 621.36,455.20 621.82,455.20 622.28,455.20 622.74,455.20 623.20,455.20 623.66,455.20 624.12,455.20 624.58,455.20 625.04,455.20 625.50,455.20 625.96,455.20 626.42,455.20 626.88,455.20 627.34,455.20 627.80,455.20 628.26,455.20 628.72,455.20 629.18,455.20 629.64,455.20 630.10,455.20 630.56,455.20 631.02,455.20 631.48,455.20 631.95,455.20 632.41,455.20 632.87,453.62 633.33,455.20 633.79,455.20 634.25,455.20 634.71,455.20 635.17,455.20 635.63,455.20 636.09,453.15 636.55,455.20 637.01,455.20 637.47,455.20 637.93,455.20 638.39,455.20 638.85,455.20 639.31,455.20 639.77,455.20 640.23,455.20 640.69,455.20 641.15,455.20 641.61,455.20 642.07,455.20 642.53,455.20 642.99,455.20 643.45,455.20 643.91,455.20 644.37,455.20 644.83,455.20 645.29,455.20 645.75,455.20 646.21,455.20 646.67,449.99 647.13,455.20 647.59,455.20 648.05,455.20 648.52,455.20 648.98,455.20 649.44,455.20 649.90,455.20 650.36,455.20 650.82,455.20 651.28,455.20 651.74,455.20 652.20,455.20 652.66,455.20 653.12,455.20 653.58,455.20 654.04,455.20 654.50,455.20 654.96,455.20 655.42,455.20 655.88,455.20 656.34,455.20 656.80,455.20 657.26,455.20 657.72,455.20 658.18,455.20 658.64,455.20 659.10,455.20 659.56,455.20 660.02,455.20 660.48,455.20 660.94,455.20 661.40,455.20 661.86,452.04 662.32,455.20 662.78,455.20 663.24,455.20 663.70,455.20 664.16,455.20 664.62,455.20 665.08,455.20 665.55,455.20 666.01,455.20 666.47,455.20 666.93,452.04 667.39,455.20 667.85,455.20 668.31,453.62 668.77,455.20 669.23,455.20 669.69,455.20 670.15,455.20 670.61,455.20 671.07,455.20 671.53,455.20 671.99,455.20 672.45,454.41 672.91,455.20 673.37,455.20 673.83,455.20 674.29,455.20 674.75,455.20 675.21,455.20 675.67,455.20 676.13,455.20 676.59,455.20 677.05,455.20 677.51,455.20 677.97,453.62 678.43,455.20 678.89,455.20 679.35,455.20 679.81,455.20 680.27,455.20 680.73,455.20 681.19,455.20 681.65,453.62 682.12,455.20 682.58,455.20 683.04,455.20 683.50,455.20 683.96,455.20 684.42,455.20 684.88,455.20 685.34,439.40 685.80,455.20 686.26,455.20 686.72,455.20 687.18,455.20 687.64,455.20 688.10,455.20 688.56,455.20 689.02,455.20 689.48,455.20 689.94,455.20 690.40,455.20 690.86,455.20 691.32,455.20 691.78,455.20 692.24,455.20 692.70,455.20 693.16,455.20 693.62,455.20 694.08,455.20 694.54,455.20 695.00,455.20 695.46,455.20 695.92,455.20 696.38,455.20 696.84,455.20 697.30,455.20 697.76,455.20 698.22,455.20 698.68,455.20 699.15,455.20 699.61,455.20 700.07,455.20 700.53,455.20 700.99,455.20 701.45,455.20 701.91,455.20 702.37,455.20 702.83,455.20 703.29,455.20 703.75,455.20 704.21,455.20 704.67,455.20 705.13,455.20 705.59,455.20 706.05,455.20 706.51,455.20 706.97,439.40 707.43,455.20 707.89,455.20 708.35,455.20 708.81,455.20 709.27,455.20 709.73,455.20 710.19,455.20 710.65,455.20 711.11,455.20 711.57,455.20 712.03,455.20 712.49,455.20 712.95,455.20 713.41,455.20 713.87,455.20 714.33,455.20 714.79,455.20 715.25,455.20 715.72,455.20 716.18,455.20 716.64,455.20 717.10,455.20 717.56,455.20 718.02,455.20 718.48,455.20 718.94,455.20 719.40,455.20 719.86,455.20 720.32,455.20 720.78,455.20 721.24,455.20 721.70,455.20 722.16,455.20 722.62,455.20 723.08,455.20 723.54,455.20 724.00,455.20 724.46,455.20 724.92,455.20 725.38,455.20 725.84,455.20 726.30,455.20 726.76,455.20 727.22,455.20 727.68,455.20 728.14,455.20 728.60,455.20 729.06,455.20 729.52,455.20 729.98,455.20 730.44,455.20 730.90,455.20 731.36,455.20 731.82,455.20 732.28,455.20 732.75,455.20 733.21,455.20 733.67,455.20 734.13,455.20 734.59,455.20 735.05,455.20 735.51,455.20 735.97,455.20 736.43,455.20 736.89,455.20 737.35,455.20 737.81,455.20 738.27,455.20 738.73,455.20 739.19,455.20 739.65,455.20 740.11,455.20 740.57,453.15 741.03,455.20 741.49,455.20 741.95,455.20 742.41,455.20 742.87,455.20 743.33,455.20 743.79,455.20 744.25,455.20 744.71,455.20 745.17,455.20 745.63,455.20 746.09,455.20 746.55,455.20 747.01,455.20 747.47,455.20 747.93,455.20 748.39,455.20 748.85,455.20 749.32,455.20 749.78,454.57 750.24,455.20 750.70,455.20 751.16,455.20 751.62,455.20 752.08,455.20 752.54,455.20 753.00,455.20 753.46,455.20 753.92,455.20 754.38,455.20 754.84,455.20 755.30,455.20 755.76,455.20 756.22,455.20 756.68,455.20 757.14,455.20 757.60,455.20 757.6,455.2" fill="#e6f2f9"/><polyline points="589.60,455.20 590.06,455.20 590.52,455.20 590.98,455.20 591.44,455.20 591.90,455.20 592.36,455.20 592.82,455.20 593.28,455.20 593.74,455.20 594.20,455.20 594.66,455.20 595.12,452.04 595.58,455.20 596.04,455.20 596.50,455.20 596.96,455.20 597.42,455.20 597.88,455.20 598.35,455.20 598.81,455.20 599.27,455.20 599.73,455.20 600.19,455.20 600.65,455.20 601.11,455.20 601.57,455.20 602.03,455.20 602.49,455.20 602.95,455.20 603.41,455.20 603.87,455.20 604.33,455.20 604.79,455.20 605.25,455.20 605.71,455.20 606.17,455.20 606.63,455.20 607.09,455.20 607.55,455.20 608.01,455.20 608.47,455.20 608.93,455.20 609.39,455.20 609.85,455.20 610.31,455.20 610.77,455.20 611.23,455.20 611.69,455.20 612.15,455.20 612.61,455.20 613.07,455.20 613.53,455.20 613.99,455.20 614.45,455.20 614.92,455.20 615.38,455.20 615.84,455.20 616.30,455.20 616.76,455.20 617.22,455.20 617.68,447.30 618.14,455.20 618.60,455.20 619.06,455.20 619.52,455.20 619.98,455.20 620.44,455.20 620.90,455.20 621.36,455.20 621.82,455.20 622.28,455.20 622.74,455.20 623.20,455.20 623.66,455.20 624.12,455.20 624.58,455.20 625.04,455.20 625.50,455.20 625.96,455.20 626.42,455.20 626.88,455.20 627.34,455.20 627.80,455.20 628.26,455.20 628.72,455.20 629.18,455.20 629.64,455.20 630.10,455.20 630.56,455.20 631.02,455.20 631.48,455.20 631.95,455.20 632.41,455.20 632.87,453.62 633.33,455.20 633.79,455.20 634.25,455.20 634.71,455.20 635.17,455.20 635.63,455.20 636.09,453.15 636.55,455.20 637.01,455.20 637.47,455.20 637.93,455.20 638.39,455.20 638.85,455.20 639.31,455.20 639.77,455.20 640.23,455.20 640.69,455.20 641.15,455.20 641.61,455.20 642.07,455.20 642.53,455.20 642.99,455.20 643.45,455.20 643.91,455.20 644.37,455.20 644.83,455.20 645.29,455.20 645.75,455.20 646.21,455.20 646.67,449.99 647.13,455.20 647.59,455.20 648.05,455.20 648.52,455.20 648.98,455.20 649.44,455.20 649.90,455.20 650.36,455.20 650.82,455.20 651.28,455.20 651.74,455.20 652.20,455.20 652.66,455.20 653.12,455.20 653.58,455.20 654.04,455.20 654.50,455.20 654.96,455.20 655.42,455.20 655.88,455.20 656.34,455.20 656.80,455.20 657.26,455.20 657.72,455.20 658.18,455.20 658.64,455.20 659.10,455.20 659.56,455.20 660.02,455.20 660.48,455.20 660.94,455.20 661.40,455.20 661.86,452.04 662.32,455.20 662.78,455.20 663.24,455.20 663.70,455.20 664.16,455.20 664.62,455.20 665.08,455.20 665.55,455.20 666.01,455.20 666.47,455.20 666.93,452.04 667.39,455.20 667.85,455.20 668.31,453.62 668.77,455.20 669.23,455.20 669.69,455.20 670.15,455.20 670.61,455.20 671.07,455.20 671.53,455.20 671.99,455.20 672.45,454.41 672.91,455.20 673.37,455.20 673.83,455.20 674.29,455.20 674.75,455.20 675.21,455.20 675.67,455.20 676.13,455.20 676.59,455.20 677.05,455.20 677.51,455.20 677.97,453.62 678.43,455.20 678.89,455.20 679.35,455.20 679.81,455.20 680.27,455.20 680.73,455.20 681.19,455.20 681.65,453.62 682.12,455.20 682.58,455.20 683.04,455.20 683.50,455.20 683.96,455.20 684.42,455.20 684.88,455.20 685.34,439.40 685.80,455.20 686.26,455.20 686.72,455.20 687.18,455.20 687.64,455.20 688.10,455.20 688.56,455.20 689.02,455.20 689.48,455.20 689.94,455.20 690.40,455.20 690.86,455.20 691.32,455.20 691.78,455.20 692.24,455.20 692.70,455.20 693.16,455.20 693.62,455.20 694.08,455.20 694.54,455.20 695.00,455.20 695.46,455.20 695.92,455.20 696.38,455.20 696.84,455.20 697.30,455.20 697.76,455.20 698.22,455.20 698.68,455.20 699.15,455.20 699.61,455.20 700.07,455.20 700.53,455.20 700.99,455.20 701.45,455.20 701.91,455.20 702.37,455.20 702.83,455.20 703.29,455.20 703.75,455.20 704.21,455.20 704.67,455.20 705.13,455.20 705.59,455.20 706.05,455.20 706.51,455.20 706.97,439.40 707.43,455.20 707.89,455.20 708.35,455.20 708.81,455.20 709.27,455.20 709.73,455.20 710.19,455.20 710.65,455.20 711.11,455.20 711.57,455.20 712.03,455.20 712.49,455.20 712.95,455.20 713.41,455.20 713.87,455.20 714.33,455.20 714.79,455.20 715.25,455.20 715.72,455.20 716.18,455.20 716.64,455.20 717.10,455.20 717.56,455.20 718.02,455.20 718.48,455.20 718.94,455.20 719.40,455.20 719.86,455.20 720.32,455.20 720.78,455.20 721.24,455.20 721.70,455.20 722.16,455.20 722.62,455.20 723.08,455.20 723.54,455.20 724.00,455.20 724.46,455.20 724.92,455.20 725.38,455.20 725.84,455.20 726.30,455.20 726.76,455.20 727.22,455.20 727.68,455.20 728.14,455.20 728.60,455.20 729.06,455.20 729.52,455.20 729.98,455.20 730.44,455.20 730.90,455.20 731.36,455.20 731.82,455.20 732.28,455.20 732.75,455.20 733.21,455.20 733.67,455.20 734.13,455.20 734.59,455.20 735.05,455.20 735.51,455.20 735.97,455.20 736.43,455.20 736.89,455.20 737.35,455.20 737.81,455.20 738.27,455.20 738.73,455.20 739.19,455.20 739.65,455.20 740.11,455.20 740.57,453.15 741.03,455.20 741.49,455.20 741.95,455.20 742.41,455.20 742.87,455.20 743.33,455.20 743.79,455.20 744.25,455.20 744.71,455.20 745.17,455.20 745.63,455.20 746.09,455.20 746.55,455.20 747.01,455.20 747.47,455.20 747.93,455.20 748.39,455.20 748.85,455.20 749.32,455.20 749.78,454.57 750.24,455.20 750.70,455.20 751.16,455.20 751.62,455.20 752.08,455.20 752.54,455.20 753.00,455.20 753.46,455.20 753.92,455.20 754.38,455.20 754.84,455.20 755.30,455.20 755.76,455.20 756.22,455.20 756.68,455.20 757.14,455.20 757.60,455.20" fill="none" stroke="#1585c0" stroke-width="1.8" stroke-linejoin="round"/></svg>
<div class="r" style="left:958px;top:392px;width:1px;height:73px;background:#d0d0d0"></div>
<svg class="r" style="left:0;top:0" width="1290" height="850"><polygon points="780.6,455.4 780.60,442.79 781.06,442.40 781.52,441.07 781.98,442.74 782.44,442.59 782.90,442.30 783.36,443.77 783.82,442.57 784.28,442.14 784.74,441.55 785.20,444.10 785.66,445.99 786.12,444.11 786.58,441.49 787.04,441.91 787.50,444.29 787.96,440.86 788.42,440.92 788.88,442.06 789.35,442.20 789.81,443.87 790.27,444.39 790.73,442.51 791.19,444.23 791.65,443.75 792.11,443.56 792.57,444.33 793.03,442.75 793.49,442.84 793.95,441.37 794.41,442.55 794.87,442.11 795.33,442.62 795.79,442.02 796.25,442.77 796.71,443.43 797.17,440.80 797.63,440.81 798.09,441.38 798.55,441.86 799.01,443.29 799.47,443.61 799.93,443.39 800.39,444.19 800.85,441.65 801.31,442.98 801.77,441.35 802.23,443.03 802.69,440.95 803.15,441.35 803.61,444.44 804.07,443.68 804.53,441.12 804.99,442.73 805.45,440.86 805.92,445.14 806.38,444.18 806.84,442.15 807.30,441.60 807.76,443.46 808.22,444.13 808.68,443.23 809.14,440.92 809.60,441.68 810.06,444.01 810.52,443.54 810.98,444.07 811.44,444.35 811.90,444.35 812.36,444.95 812.82,442.40 813.28,442.81 813.74,443.75 814.20,441.77 814.66,443.97 815.12,442.09 815.58,444.02 816.04,442.91 816.50,443.67 816.96,446.19 817.42,440.90 817.88,441.51 818.34,443.33 818.80,441.21 819.26,443.67 819.72,443.00 820.18,441.32 820.64,442.10 821.10,444.08 821.56,440.83 822.02,443.67 822.48,443.50 822.95,444.52 823.41,443.24 823.87,443.36 824.33,444.18 824.79,444.11 825.25,442.32 825.71,443.56 826.17,445.80 826.63,443.09 827.09,444.92 827.55,440.94 828.01,442.68 828.47,442.35 828.93,441.28 829.39,443.78 829.85,443.88 830.31,441.13 830.77,441.46 831.23,443.53 831.69,445.12 832.15,441.74 832.61,441.01 833.07,443.73 833.53,440.97 833.99,441.22 834.45,442.24 834.91,442.90 835.37,444.06 835.83,444.30 836.29,440.93 836.75,443.57 837.21,441.87 837.67,443.51 838.13,441.44 838.59,442.27 839.05,443.37 839.52,443.80 839.98,441.81 840.44,444.19 840.90,443.61 841.36,444.70 841.82,446.21 842.28,442.20 842.74,443.42 843.20,441.09 843.66,443.70 844.12,444.38 844.58,443.46 845.04,442.82 845.50,444.22 845.96,443.80 846.42,443.10 846.88,442.35 847.34,443.96 847.80,443.12 848.26,441.19 848.72,440.86 849.18,442.04 849.64,441.92 850.10,442.31 850.56,443.93 851.02,444.32 851.48,444.38 851.94,441.12 852.40,441.88 852.86,440.93 853.32,444.37 853.78,442.12 854.24,442.68 854.70,445.59 855.16,443.28 855.62,440.79 856.08,444.17 856.55,442.45 857.01,441.75 857.47,441.16 857.93,441.75 858.39,441.87 858.85,441.55 859.31,441.10 859.77,443.16 860.23,445.21 860.69,441.15 861.15,441.26 861.61,442.92 862.07,441.56 862.53,441.29 862.99,442.35 863.45,442.16 863.91,445.66 864.37,442.32 864.83,442.22 865.29,444.15 865.75,442.11 866.21,440.82 866.67,441.23 867.13,441.78 867.59,443.03 868.05,441.76 868.51,442.32 868.97,442.84 869.43,441.38 869.89,444.14 870.35,441.70 870.81,444.34 871.27,442.25 871.73,442.69 872.19,443.60 872.65,441.89 873.12,442.63 873.58,442.20 874.04,441.08 874.50,443.51 874.96,444.40 875.42,443.34 875.88,441.97 876.34,443.70 876.80,443.82 877.26,441.14 877.72,442.03 878.18,442.83 878.64,441.19 879.10,443.25 879.56,442.01 880.02,443.72 880.48,442.87 880.94,441.50 881.40,441.11 881.86,441.23 882.32,443.04 882.78,442.31 883.24,444.76 883.70,443.95 884.16,442.63 884.62,441.39 885.08,441.34 885.54,441.85 886.00,440.97 886.46,443.43 886.92,443.83 887.38,442.80 887.84,443.44 888.30,443.66 888.76,442.93 889.22,442.16 889.68,442.64 890.15,443.29 890.61,441.38 891.07,440.86 891.53,442.79 891.99,445.69 892.45,445.33 892.91,441.26 893.37,444.29 893.83,441.86 894.29,442.36 894.75,443.32 895.21,441.55 895.67,444.37 896.13,443.95 896.59,442.78 897.05,444.35 897.51,441.41 897.97,445.74 898.43,443.93 898.89,444.27 899.35,442.15 899.81,442.81 900.27,442.14 900.73,446.01 901.19,441.50 901.65,440.94 902.11,441.94 902.57,443.72 903.03,442.71 903.49,443.79 903.95,444.40 904.41,442.72 904.87,441.84 905.33,445.38 905.79,443.45 906.25,443.18 906.72,441.90 907.18,444.94 907.64,442.20 908.10,445.13 908.56,443.01 909.02,441.55 909.48,441.13 909.94,444.13 910.40,441.04 910.86,441.81 911.32,443.97 911.78,442.79 912.24,442.16 912.70,441.12 913.16,443.07 913.62,442.37 914.08,441.23 914.54,441.53 915.00,441.00 915.46,442.75 915.92,442.07 916.38,443.70 916.84,441.81 917.30,441.46 917.76,446.04 918.22,441.82 918.68,443.67 919.14,441.16 919.60,440.86 920.06,440.87 920.52,442.48 920.98,441.56 921.44,443.27 921.90,441.12 922.36,441.32 922.82,443.17 923.28,444.14 923.75,442.83 924.21,442.43 924.67,441.64 925.13,442.66 925.59,444.34 926.05,445.86 926.51,444.21 926.97,441.52 927.43,443.81 927.89,443.22 928.35,445.77 928.81,443.93 929.27,445.83 929.73,446.22 930.19,441.80 930.65,441.38 931.11,441.93 931.57,440.99 932.03,442.65 932.49,440.98 932.95,444.13 933.41,443.64 933.87,442.52 934.33,443.38 934.79,441.78 935.25,442.11 935.71,442.53 936.17,441.36 936.63,442.40 937.09,443.31 937.55,443.05 938.01,441.36 938.47,441.16 938.93,443.68 939.39,441.34 939.85,440.91 940.32,442.53 940.78,442.35 941.24,443.71 941.70,442.49 942.16,445.78 942.62,442.23 943.08,444.34 943.54,440.90 944.00,442.56 944.46,442.98 944.92,441.52 945.38,442.39 945.84,442.65 946.30,441.92 946.76,444.20 947.22,442.48 947.68,442.93 948.14,440.95 948.60,441.07 948.6,455.4" fill="#e6f2f9"/><polyline points="780.60,442.79 781.06,442.40 781.52,441.07 781.98,442.74 782.44,442.59 782.90,442.30 783.36,443.77 783.82,442.57 784.28,442.14 784.74,441.55 785.20,444.10 785.66,445.99 786.12,444.11 786.58,441.49 787.04,441.91 787.50,444.29 787.96,440.86 788.42,440.92 788.88,442.06 789.35,442.20 789.81,443.87 790.27,444.39 790.73,442.51 791.19,444.23 791.65,443.75 792.11,443.56 792.57,444.33 793.03,442.75 793.49,442.84 793.95,441.37 794.41,442.55 794.87,442.11 795.33,442.62 795.79,442.02 796.25,442.77 796.71,443.43 797.17,440.80 797.63,440.81 798.09,441.38 798.55,441.86 799.01,443.29 799.47,443.61 799.93,443.39 800.39,444.19 800.85,441.65 801.31,442.98 801.77,441.35 802.23,443.03 802.69,440.95 803.15,441.35 803.61,444.44 804.07,443.68 804.53,441.12 804.99,442.73 805.45,440.86 805.92,445.14 806.38,444.18 806.84,442.15 807.30,441.60 807.76,443.46 808.22,444.13 808.68,443.23 809.14,440.92 809.60,441.68 810.06,444.01 810.52,443.54 810.98,444.07 811.44,444.35 811.90,444.35 812.36,444.95 812.82,442.40 813.28,442.81 813.74,443.75 814.20,441.77 814.66,443.97 815.12,442.09 815.58,444.02 816.04,442.91 816.50,443.67 816.96,446.19 817.42,440.90 817.88,441.51 818.34,443.33 818.80,441.21 819.26,443.67 819.72,443.00 820.18,441.32 820.64,442.10 821.10,444.08 821.56,440.83 822.02,443.67 822.48,443.50 822.95,444.52 823.41,443.24 823.87,443.36 824.33,444.18 824.79,444.11 825.25,442.32 825.71,443.56 826.17,445.80 826.63,443.09 827.09,444.92 827.55,440.94 828.01,442.68 828.47,442.35 828.93,441.28 829.39,443.78 829.85,443.88 830.31,441.13 830.77,441.46 831.23,443.53 831.69,445.12 832.15,441.74 832.61,441.01 833.07,443.73 833.53,440.97 833.99,441.22 834.45,442.24 834.91,442.90 835.37,444.06 835.83,444.30 836.29,440.93 836.75,443.57 837.21,441.87 837.67,443.51 838.13,441.44 838.59,442.27 839.05,443.37 839.52,443.80 839.98,441.81 840.44,444.19 840.90,443.61 841.36,444.70 841.82,446.21 842.28,442.20 842.74,443.42 843.20,441.09 843.66,443.70 844.12,444.38 844.58,443.46 845.04,442.82 845.50,444.22 845.96,443.80 846.42,443.10 846.88,442.35 847.34,443.96 847.80,443.12 848.26,441.19 848.72,440.86 849.18,442.04 849.64,441.92 850.10,442.31 850.56,443.93 851.02,444.32 851.48,444.38 851.94,441.12 852.40,441.88 852.86,440.93 853.32,444.37 853.78,442.12 854.24,442.68 854.70,445.59 855.16,443.28 855.62,440.79 856.08,444.17 856.55,442.45 857.01,441.75 857.47,441.16 857.93,441.75 858.39,441.87 858.85,441.55 859.31,441.10 859.77,443.16 860.23,445.21 860.69,441.15 861.15,441.26 861.61,442.92 862.07,441.56 862.53,441.29 862.99,442.35 863.45,442.16 863.91,445.66 864.37,442.32 864.83,442.22 865.29,444.15 865.75,442.11 866.21,440.82 866.67,441.23 867.13,441.78 867.59,443.03 868.05,441.76 868.51,442.32 868.97,442.84 869.43,441.38 869.89,444.14 870.35,441.70 870.81,444.34 871.27,442.25 871.73,442.69 872.19,443.60 872.65,441.89 873.12,442.63 873.58,442.20 874.04,441.08 874.50,443.51 874.96,444.40 875.42,443.34 875.88,441.97 876.34,443.70 876.80,443.82 877.26,441.14 877.72,442.03 878.18,442.83 878.64,441.19 879.10,443.25 879.56,442.01 880.02,443.72 880.48,442.87 880.94,441.50 881.40,441.11 881.86,441.23 882.32,443.04 882.78,442.31 883.24,444.76 883.70,443.95 884.16,442.63 884.62,441.39 885.08,441.34 885.54,441.85 886.00,440.97 886.46,443.43 886.92,443.83 887.38,442.80 887.84,443.44 888.30,443.66 888.76,442.93 889.22,442.16 889.68,442.64 890.15,443.29 890.61,441.38 891.07,440.86 891.53,442.79 891.99,445.69 892.45,445.33 892.91,441.26 893.37,444.29 893.83,441.86 894.29,442.36 894.75,443.32 895.21,441.55 895.67,444.37 896.13,443.95 896.59,442.78 897.05,444.35 897.51,441.41 897.97,445.74 898.43,443.93 898.89,444.27 899.35,442.15 899.81,442.81 900.27,442.14 900.73,446.01 901.19,441.50 901.65,440.94 902.11,441.94 902.57,443.72 903.03,442.71 903.49,443.79 903.95,444.40 904.41,442.72 904.87,441.84 905.33,445.38 905.79,443.45 906.25,443.18 906.72,441.90 907.18,444.94 907.64,442.20 908.10,445.13 908.56,443.01 909.02,441.55 909.48,441.13 909.94,444.13 910.40,441.04 910.86,441.81 911.32,443.97 911.78,442.79 912.24,442.16 912.70,441.12 913.16,443.07 913.62,442.37 914.08,441.23 914.54,441.53 915.00,441.00 915.46,442.75 915.92,442.07 916.38,443.70 916.84,441.81 917.30,441.46 917.76,446.04 918.22,441.82 918.68,443.67 919.14,441.16 919.60,440.86 920.06,440.87 920.52,442.48 920.98,441.56 921.44,443.27 921.90,441.12 922.36,441.32 922.82,443.17 923.28,444.14 923.75,442.83 924.21,442.43 924.67,441.64 925.13,442.66 925.59,444.34 926.05,445.86 926.51,444.21 926.97,441.52 927.43,443.81 927.89,443.22 928.35,445.77 928.81,443.93 929.27,445.83 929.73,446.22 930.19,441.80 930.65,441.38 931.11,441.93 931.57,440.99 932.03,442.65 932.49,440.98 932.95,444.13 933.41,443.64 933.87,442.52 934.33,443.38 934.79,441.78 935.25,442.11 935.71,442.53 936.17,441.36 936.63,442.40 937.09,443.31 937.55,443.05 938.01,441.36 938.47,441.16 938.93,443.68 939.39,441.34 939.85,440.91 940.32,442.53 940.78,442.35 941.24,443.71 941.70,442.49 942.16,445.78 942.62,442.23 943.08,444.34 943.54,440.90 944.00,442.56 944.46,442.98 944.92,441.52 945.38,442.39 945.84,442.65 946.30,441.92 946.76,444.20 947.22,442.48 947.68,442.93 948.14,440.95 948.60,441.07" fill="none" stroke="#1585c0" stroke-width="1.7" stroke-linejoin="round"/></svg>
<div class="r" style="left:1149px;top:392px;width:1px;height:73px;background:#d0d0d0"></div>
<svg class="r" style="left:0;top:0" width="1290" height="850"><polygon points="971.6,455.2 971.60,455.20 972.06,455.20 972.52,455.20 972.98,455.20 973.44,455.20 973.90,455.20 974.36,455.20 974.82,455.20 975.28,455.20 975.74,455.20 976.20,455.20 976.66,455.20 977.12,455.20 977.58,455.20 978.04,455.20 978.50,455.20 978.96,455.20 979.42,455.20 979.88,455.20 980.35,455.20 980.81,455.20 981.27,455.20 981.73,455.20 982.19,455.20 982.65,455.20 983.11,455.20 983.57,455.20 984.03,455.20 984.49,446.04 984.95,455.20 985.41,455.20 985.87,455.20 986.33,455.20 986.79,455.20 987.25,455.20 987.71,455.20 988.17,455.20 988.63,455.20 989.09,455.20 989.55,455.20 990.01,455.20 990.47,455.20 990.93,455.20 991.39,455.20 991.85,455.20 992.31,455.20 992.77,455.20 993.23,455.20 993.69,455.20 994.15,455.20 994.61,455.20 995.07,455.20 995.53,455.20 995.99,455.20 996.45,455.20 996.92,455.20 997.38,455.20 997.84,455.20 998.30,455.20 998.76,455.20 999.22,455.20 999.68,455.20 1000.14,455.20 1000.60,455.20 1001.06,455.20 1001.52,455.20 1001.98,455.20 1002.44,455.20 1002.90,455.20 1003.36,455.20 1003.82,455.20 1004.28,455.20 1004.74,455.20 1005.20,455.20 1005.66,455.20 1006.12,455.20 1006.58,455.20 1007.04,455.20 1007.50,455.20 1007.96,453.15 1008.42,455.20 1008.88,455.20 1009.34,455.20 1009.80,455.20 1010.26,455.20 1010.72,455.20 1011.18,455.20 1011.64,455.20 1012.10,455.20 1012.56,455.20 1013.02,455.20 1013.48,455.20 1013.95,455.20 1014.41,455.20 1014.87,455.20 1015.33,455.20 1015.79,455.20 1016.25,455.20 1016.71,455.20 1017.17,455.20 1017.63,455.20 1018.09,455.20 1018.55,455.20 1019.01,455.20 1019.47,455.20 1019.93,455.20 1020.39,455.20 1020.85,455.20 1021.31,455.20 1021.77,455.20 1022.23,455.20 1022.69,455.20 1023.15,455.20 1023.61,455.20 1024.07,455.20 1024.53,455.20 1024.99,455.20 1025.45,455.20 1025.91,455.20 1026.37,455.20 1026.83,455.20 1027.29,455.20 1027.75,455.20 1028.21,455.20 1028.67,455.20 1029.13,455.20 1029.59,455.20 1030.05,455.20 1030.52,455.20 1030.98,455.20 1031.44,455.20 1031.90,455.20 1032.36,455.20 1032.82,455.20 1033.28,455.20 1033.74,455.20 1034.20,455.20 1034.66,455.20 1035.12,455.20 1035.58,455.20 1036.04,439.40 1036.50,455.20 1036.96,455.20 1037.42,455.20 1037.88,455.20 1038.34,455.20 1038.80,455.20 1039.26,455.20 1039.72,455.20 1040.18,455.20 1040.64,455.20 1041.10,455.20 1041.56,455.20 1042.02,455.20 1042.48,455.20 1042.94,455.20 1043.40,455.20 1043.86,455.20 1044.32,455.20 1044.78,455.20 1045.24,455.20 1045.70,455.20 1046.16,455.20 1046.62,447.30 1047.08,455.20 1047.55,455.20 1048.01,455.20 1048.47,455.20 1048.93,455.20 1049.39,455.20 1049.85,455.20 1050.31,455.20 1050.77,455.20 1051.23,455.20 1051.69,455.20 1052.15,455.20 1052.61,455.20 1053.07,455.20 1053.53,455.20 1053.99,455.20 1054.45,455.20 1054.91,455.20 1055.37,455.20 1055.83,455.20 1056.29,455.20 1056.75,455.20 1057.21,455.20 1057.67,455.20 1058.13,455.20 1058.59,455.20 1059.05,455.20 1059.51,455.20 1059.97,455.20 1060.43,455.20 1060.89,455.20 1061.35,455.20 1061.81,455.20 1062.27,455.20 1062.73,455.20 1063.19,455.20 1063.65,455.20 1064.12,455.20 1064.58,455.20 1065.04,455.20 1065.50,455.20 1065.96,455.20 1066.42,455.20 1066.88,455.20 1067.34,455.20 1067.80,455.20 1068.26,455.20 1068.72,455.20 1069.18,455.20 1069.64,455.20 1070.10,455.20 1070.56,455.20 1071.02,455.20 1071.48,455.20 1071.94,455.20 1072.40,455.20 1072.86,455.20 1073.32,455.20 1073.78,455.20 1074.24,455.20 1074.70,455.20 1075.16,455.20 1075.62,455.20 1076.08,455.20 1076.54,455.20 1077.00,455.20 1077.46,455.20 1077.92,455.20 1078.38,455.20 1078.84,455.20 1079.30,455.20 1079.76,455.20 1080.22,455.20 1080.68,455.20 1081.15,455.20 1081.61,455.20 1082.07,455.20 1082.53,455.20 1082.99,455.20 1083.45,455.20 1083.91,455.20 1084.37,455.20 1084.83,455.20 1085.29,455.20 1085.75,455.20 1086.21,455.20 1086.67,455.20 1087.13,455.20 1087.59,455.20 1088.05,455.20 1088.51,455.20 1088.97,455.20 1089.43,455.20 1089.89,455.20 1090.35,455.20 1090.81,455.20 1091.27,455.20 1091.73,455.20 1092.19,455.20 1092.65,455.20 1093.11,455.20 1093.57,455.20 1094.03,455.20 1094.49,455.20 1094.95,455.20 1095.41,455.20 1095.87,455.20 1096.33,455.20 1096.79,455.20 1097.25,455.20 1097.72,455.20 1098.18,455.20 1098.64,455.20 1099.10,455.20 1099.56,455.20 1100.02,455.20 1100.48,455.20 1100.94,455.20 1101.40,455.20 1101.86,455.20 1102.32,455.20 1102.78,455.20 1103.24,455.20 1103.70,455.20 1104.16,455.20 1104.62,452.99 1105.08,455.20 1105.54,455.20 1106.00,455.20 1106.46,455.20 1106.92,455.20 1107.38,455.20 1107.84,455.20 1108.30,455.20 1108.76,455.20 1109.22,455.20 1109.68,455.20 1110.14,455.20 1110.60,455.20 1111.06,455.20 1111.52,455.20 1111.98,455.20 1112.44,455.20 1112.90,455.20 1113.36,455.20 1113.82,455.20 1114.28,455.20 1114.75,455.20 1115.21,455.20 1115.67,455.20 1116.13,455.20 1116.59,455.20 1117.05,455.20 1117.51,451.09 1117.97,455.20 1118.43,455.20 1118.89,451.72 1119.35,455.20 1119.81,455.20 1120.27,455.20 1120.73,455.20 1121.19,455.20 1121.65,455.20 1122.11,455.20 1122.57,455.20 1123.03,455.20 1123.49,455.20 1123.95,455.20 1124.41,455.20 1124.87,455.20 1125.33,455.20 1125.79,455.20 1126.25,455.20 1126.71,455.20 1127.17,455.20 1127.63,455.20 1128.09,455.20 1128.55,455.20 1129.01,455.20 1129.47,455.20 1129.93,455.20 1130.39,455.20 1130.85,455.20 1131.32,455.20 1131.78,455.20 1132.24,455.20 1132.70,455.20 1133.16,455.20 1133.62,455.20 1134.08,455.20 1134.54,455.20 1135.00,455.20 1135.46,455.20 1135.92,455.20 1136.38,455.20 1136.84,455.20 1137.30,455.20 1137.76,455.20 1138.22,455.20 1138.68,455.20 1139.14,455.20 1139.60,455.20 1139.6,455.2" fill="#e6f2f9"/><polyline points="971.60,455.20 972.06,455.20 972.52,455.20 972.98,455.20 973.44,455.20 973.90,455.20 974.36,455.20 974.82,455.20 975.28,455.20 975.74,455.20 976.20,455.20 976.66,455.20 977.12,455.20 977.58,455.20 978.04,455.20 978.50,455.20 978.96,455.20 979.42,455.20 979.88,455.20 980.35,455.20 980.81,455.20 981.27,455.20 981.73,455.20 982.19,455.20 982.65,455.20 983.11,455.20 983.57,455.20 984.03,455.20 984.49,446.04 984.95,455.20 985.41,455.20 985.87,455.20 986.33,455.20 986.79,455.20 987.25,455.20 987.71,455.20 988.17,455.20 988.63,455.20 989.09,455.20 989.55,455.20 990.01,455.20 990.47,455.20 990.93,455.20 991.39,455.20 991.85,455.20 992.31,455.20 992.77,455.20 993.23,455.20 993.69,455.20 994.15,455.20 994.61,455.20 995.07,455.20 995.53,455.20 995.99,455.20 996.45,455.20 996.92,455.20 997.38,455.20 997.84,455.20 998.30,455.20 998.76,455.20 999.22,455.20 999.68,455.20 1000.14,455.20 1000.60,455.20 1001.06,455.20 1001.52,455.20 1001.98,455.20 1002.44,455.20 1002.90,455.20 1003.36,455.20 1003.82,455.20 1004.28,455.20 1004.74,455.20 1005.20,455.20 1005.66,455.20 1006.12,455.20 1006.58,455.20 1007.04,455.20 1007.50,455.20 1007.96,453.15 1008.42,455.20 1008.88,455.20 1009.34,455.20 1009.80,455.20 1010.26,455.20 1010.72,455.20 1011.18,455.20 1011.64,455.20 1012.10,455.20 1012.56,455.20 1013.02,455.20 1013.48,455.20 1013.95,455.20 1014.41,455.20 1014.87,455.20 1015.33,455.20 1015.79,455.20 1016.25,455.20 1016.71,455.20 1017.17,455.20 1017.63,455.20 1018.09,455.20 1018.55,455.20 1019.01,455.20 1019.47,455.20 1019.93,455.20 1020.39,455.20 1020.85,455.20 1021.31,455.20 1021.77,455.20 1022.23,455.20 1022.69,455.20 1023.15,455.20 1023.61,455.20 1024.07,455.20 1024.53,455.20 1024.99,455.20 1025.45,455.20 1025.91,455.20 1026.37,455.20 1026.83,455.20 1027.29,455.20 1027.75,455.20 1028.21,455.20 1028.67,455.20 1029.13,455.20 1029.59,455.20 1030.05,455.20 1030.52,455.20 1030.98,455.20 1031.44,455.20 1031.90,455.20 1032.36,455.20 1032.82,455.20 1033.28,455.20 1033.74,455.20 1034.20,455.20 1034.66,455.20 1035.12,455.20 1035.58,455.20 1036.04,439.40 1036.50,455.20 1036.96,455.20 1037.42,455.20 1037.88,455.20 1038.34,455.20 1038.80,455.20 1039.26,455.20 1039.72,455.20 1040.18,455.20 1040.64,455.20 1041.10,455.20 1041.56,455.20 1042.02,455.20 1042.48,455.20 1042.94,455.20 1043.40,455.20 1043.86,455.20 1044.32,455.20 1044.78,455.20 1045.24,455.20 1045.70,455.20 1046.16,455.20 1046.62,447.30 1047.08,455.20 1047.55,455.20 1048.01,455.20 1048.47,455.20 1048.93,455.20 1049.39,455.20 1049.85,455.20 1050.31,455.20 1050.77,455.20 1051.23,455.20 1051.69,455.20 1052.15,455.20 1052.61,455.20 1053.07,455.20 1053.53,455.20 1053.99,455.20 1054.45,455.20 1054.91,455.20 1055.37,455.20 1055.83,455.20 1056.29,455.20 1056.75,455.20 1057.21,455.20 1057.67,455.20 1058.13,455.20 1058.59,455.20 1059.05,455.20 1059.51,455.20 1059.97,455.20 1060.43,455.20 1060.89,455.20 1061.35,455.20 1061.81,455.20 1062.27,455.20 1062.73,455.20 1063.19,455.20 1063.65,455.20 1064.12,455.20 1064.58,455.20 1065.04,455.20 1065.50,455.20 1065.96,455.20 1066.42,455.20 1066.88,455.20 1067.34,455.20 1067.80,455.20 1068.26,455.20 1068.72,455.20 1069.18,455.20 1069.64,455.20 1070.10,455.20 1070.56,455.20 1071.02,455.20 1071.48,455.20 1071.94,455.20 1072.40,455.20 1072.86,455.20 1073.32,455.20 1073.78,455.20 1074.24,455.20 1074.70,455.20 1075.16,455.20 1075.62,455.20 1076.08,455.20 1076.54,455.20 1077.00,455.20 1077.46,455.20 1077.92,455.20 1078.38,455.20 1078.84,455.20 1079.30,455.20 1079.76,455.20 1080.22,455.20 1080.68,455.20 1081.15,455.20 1081.61,455.20 1082.07,455.20 1082.53,455.20 1082.99,455.20 1083.45,455.20 1083.91,455.20 1084.37,455.20 1084.83,455.20 1085.29,455.20 1085.75,455.20 1086.21,455.20 1086.67,455.20 1087.13,455.20 1087.59,455.20 1088.05,455.20 1088.51,455.20 1088.97,455.20 1089.43,455.20 1089.89,455.20 1090.35,455.20 1090.81,455.20 1091.27,455.20 1091.73,455.20 1092.19,455.20 1092.65,455.20 1093.11,455.20 1093.57,455.20 1094.03,455.20 1094.49,455.20 1094.95,455.20 1095.41,455.20 1095.87,455.20 1096.33,455.20 1096.79,455.20 1097.25,455.20 1097.72,455.20 1098.18,455.20 1098.64,455.20 1099.10,455.20 1099.56,455.20 1100.02,455.20 1100.48,455.20 1100.94,455.20 1101.40,455.20 1101.86,455.20 1102.32,455.20 1102.78,455.20 1103.24,455.20 1103.70,455.20 1104.16,455.20 1104.62,452.99 1105.08,455.20 1105.54,455.20 1106.00,455.20 1106.46,455.20 1106.92,455.20 1107.38,455.20 1107.84,455.20 1108.30,455.20 1108.76,455.20 1109.22,455.20 1109.68,455.20 1110.14,455.20 1110.60,455.20 1111.06,455.20 1111.52,455.20 1111.98,455.20 1112.44,455.20 1112.90,455.20 1113.36,455.20 1113.82,455.20 1114.28,455.20 1114.75,455.20 1115.21,455.20 1115.67,455.20 1116.13,455.20 1116.59,455.20 1117.05,455.20 1117.51,451.09 1117.97,455.20 1118.43,455.20 1118.89,451.72 1119.35,455.20 1119.81,455.20 1120.27,455.20 1120.73,455.20 1121.19,455.20 1121.65,455.20 1122.11,455.20 1122.57,455.20 1123.03,455.20 1123.49,455.20 1123.95,455.20 1124.41,455.20 1124.87,455.20 1125.33,455.20 1125.79,455.20 1126.25,455.20 1126.71,455.20 1127.17,455.20 1127.63,455.20 1128.09,455.20 1128.55,455.20 1129.01,455.20 1129.47,455.20 1129.93,455.20 1130.39,455.20 1130.85,455.20 1131.32,455.20 1131.78,455.20 1132.24,455.20 1132.70,455.20 1133.16,455.20 1133.62,455.20 1134.08,455.20 1134.54,455.20 1135.00,455.20 1135.46,455.20 1135.92,455.20 1136.38,455.20 1136.84,455.20 1137.30,455.20 1137.76,455.20 1138.22,455.20 1138.68,455.20 1139.14,455.20 1139.60,455.20" fill="none" stroke="#1585c0" stroke-width="1.8" stroke-linejoin="round"/></svg>
<div class="r" style="left:194px;top:491px;width:1px;height:74px;background:#d0d0d0"></div>
<svg class="r" style="left:0;top:0" width="1290" height="850"><polygon points="16.3,555.2 16.30,553.82 16.76,549.39 17.22,548.01 17.68,548.19 18.14,553.87 18.60,553.12 19.06,552.45 19.52,551.61 19.98,549.16 20.44,551.79 20.90,549.49 21.36,554.64 21.82,553.07 22.28,553.08 22.74,552.61 23.20,549.54 23.66,551.24 24.12,552.85 24.58,554.09 25.05,553.13 25.51,549.94 25.97,553.16 26.43,551.19 26.89,552.37 27.35,552.64 27.81,555.06 28.27,554.97 28.73,548.45 29.19,549.43 29.65,550.25 30.11,551.60 30.57,550.73 31.03,554.35 31.49,553.54 31.95,550.62 32.41,539.40 32.87,550.36 33.33,550.53 33.79,550.11 34.25,553.76 34.71,553.46 35.17,548.44 35.63,549.38 36.09,549.70 36.55,550.40 37.01,552.08 37.47,554.87 37.93,553.83 38.39,551.11 38.85,548.91 39.31,549.97 39.77,549.26 40.23,548.90 40.69,552.96 41.15,553.11 41.62,548.72 42.08,550.50 42.54,551.65 43.00,553.63 43.46,553.29 43.92,552.09 44.38,553.38 44.84,552.91 45.30,548.55 45.76,549.37 46.22,550.94 46.68,552.78 47.14,553.12 47.60,552.24 48.06,549.83 48.52,549.12 48.98,547.17 49.44,549.87 49.90,549.08 50.36,554.42 50.82,554.05 51.28,549.18 51.74,550.15 52.20,550.49 52.66,544.99 53.12,548.85 53.58,550.88 54.04,554.44 54.50,549.63 54.96,549.41 55.42,549.97 55.88,548.28 56.34,550.34 56.80,553.79 57.26,553.44 57.72,548.07 58.18,550.73 58.65,550.11 59.11,549.42 59.57,551.74 60.03,553.50 60.49,553.17 60.95,549.53 61.41,552.30 61.87,551.79 62.33,549.89 62.79,551.94 63.25,554.21 63.71,553.09 64.17,549.80 64.63,548.88 65.09,551.30 65.55,551.54 66.01,552.72 66.47,552.68 66.93,553.83 67.39,551.82 67.85,549.62 68.31,551.66 68.77,549.41 69.23,552.08 69.69,553.62 70.15,553.84 70.61,552.34 71.07,550.32 71.53,552.29 71.99,551.23 72.45,552.17 72.91,553.26 73.37,551.24 73.83,549.92 74.29,549.69 74.75,549.44 75.22,552.10 75.68,551.59 76.14,554.28 76.60,552.32 77.06,550.38 77.52,551.86 77.98,551.34 78.44,551.25 78.90,552.97 79.36,554.22 79.82,554.74 80.28,552.46 80.74,552.75 81.20,549.78 81.66,553.10 82.12,552.61 82.58,553.96 83.04,554.90 83.50,551.53 83.96,549.79 84.42,551.48 84.88,551.65 85.34,552.08 85.80,554.81 86.26,554.35 86.72,550.97 87.18,552.90 87.64,552.66 88.10,551.63 88.56,552.76 89.02,554.82 89.48,553.75 89.94,551.09 90.40,552.51 90.86,550.61 91.32,543.15 91.78,544.30 92.25,554.58 92.71,553.81 93.17,551.82 93.63,549.33 94.09,550.50 94.55,550.75 95.01,550.06 95.47,553.79 95.93,553.28 96.39,549.66 96.85,550.22 97.31,552.29 97.77,549.61 98.23,552.35 98.69,549.17 99.15,552.00 99.61,550.92 100.07,547.19 100.53,553.33 100.99,553.78 101.45,551.40 101.91,553.87 102.37,552.41 102.83,553.10 103.29,552.83 103.75,552.75 104.21,551.92 104.67,548.95 105.13,551.44 105.59,553.21 106.05,552.94 106.51,552.14 106.97,551.94 107.43,552.81 107.89,549.88 108.35,553.95 108.82,552.57 109.28,548.22 109.74,551.95 110.20,550.15 110.66,552.00 111.12,551.23 111.58,553.59 112.04,554.69 112.50,551.98 112.96,552.38 113.42,552.36 113.88,552.41 114.34,552.23 114.80,554.12 115.26,554.34 115.72,552.24 116.18,551.58 116.64,551.95 117.10,552.85 117.56,553.05 118.02,554.67 118.48,553.69 118.94,551.78 119.40,551.79 119.86,553.21 120.32,551.99 120.78,551.42 121.24,552.76 121.70,553.97 122.16,550.51 122.62,546.34 123.08,550.82 123.54,550.44 124.00,551.39 124.46,554.22 124.92,552.88 125.38,551.97 125.85,550.69 126.31,549.86 126.77,552.75 127.23,553.42 127.69,554.12 128.15,552.71 128.61,550.50 129.07,553.08 129.53,551.05 129.99,553.36 130.45,553.43 130.91,554.32 131.37,552.82 131.83,551.71 132.29,552.24 132.75,549.77 133.21,551.84 133.67,553.82 134.13,554.55 134.59,551.42 135.05,550.95 135.51,548.69 135.97,551.37 136.43,550.56 136.89,548.09 137.35,553.98 137.81,554.20 138.27,552.40 138.73,546.72 139.19,547.45 139.65,550.01 140.11,552.78 140.57,553.92 141.03,553.62 141.49,550.58 141.95,551.38 142.42,552.05 142.88,549.21 143.34,552.00 143.80,554.36 144.26,554.18 144.72,550.87 145.18,551.21 145.64,553.08 146.10,549.19 146.56,552.76 147.02,551.93 147.48,553.22 147.94,543.44 148.40,546.95 148.86,549.70 149.32,546.32 149.78,547.92 150.24,552.43 150.70,552.76 151.16,550.37 151.62,548.68 152.08,550.87 152.54,550.33 153.00,550.41 153.46,554.47 153.92,554.50 154.38,551.48 154.84,550.73 155.30,552.03 155.76,551.03 156.22,550.27 156.68,553.45 157.14,554.24 157.60,548.84 158.06,551.39 158.52,552.37 158.98,551.99 159.45,548.77 159.91,549.67 160.37,550.42 160.83,550.41 161.29,551.45 161.75,550.06 162.21,549.05 162.67,549.80 163.13,552.30 163.59,552.69 164.05,546.40 164.51,549.65 164.97,546.17 165.43,547.34 165.89,550.14 166.35,552.35 166.81,552.37 167.27,548.36 167.73,546.26 168.19,551.17 168.65,551.54 169.11,551.81 169.57,553.89 170.03,552.76 170.49,550.50 170.95,547.10 171.41,552.23 171.87,552.18 172.33,540.02 172.79,551.51 173.25,550.05 173.71,548.90 174.17,547.98 174.63,548.20 175.09,548.74 175.55,550.50 176.02,552.96 176.48,551.98 176.94,545.36 177.40,549.59 177.86,548.72 178.32,550.98 178.78,550.11 179.24,551.91 179.70,551.24 180.16,550.97 180.62,552.24 181.08,553.93 181.54,552.34 182.00,551.79 182.46,553.23 182.92,553.26 183.38,552.87 183.84,551.91 184.30,553.26 184.3,555.2" fill="#e6f2f9"/><polyline points="16.30,553.82 16.76,549.39 17.22,548.01 17.68,548.19 18.14,553.87 18.60,553.12 19.06,552.45 19.52,551.61 19.98,549.16 20.44,551.79 20.90,549.49 21.36,554.64 21.82,553.07 22.28,553.08 22.74,552.61 23.20,549.54 23.66,551.24 24.12,552.85 24.58,554.09 25.05,553.13 25.51,549.94 25.97,553.16 26.43,551.19 26.89,552.37 27.35,552.64 27.81,555.06 28.27,554.97 28.73,548.45 29.19,549.43 29.65,550.25 30.11,551.60 30.57,550.73 31.03,554.35 31.49,553.54 31.95,550.62 32.41,539.40 32.87,550.36 33.33,550.53 33.79,550.11 34.25,553.76 34.71,553.46 35.17,548.44 35.63,549.38 36.09,549.70 36.55,550.40 37.01,552.08 37.47,554.87 37.93,553.83 38.39,551.11 38.85,548.91 39.31,549.97 39.77,549.26 40.23,548.90 40.69,552.96 41.15,553.11 41.62,548.72 42.08,550.50 42.54,551.65 43.00,553.63 43.46,553.29 43.92,552.09 44.38,553.38 44.84,552.91 45.30,548.55 45.76,549.37 46.22,550.94 46.68,552.78 47.14,553.12 47.60,552.24 48.06,549.83 48.52,549.12 48.98,547.17 49.44,549.87 49.90,549.08 50.36,554.42 50.82,554.05 51.28,549.18 51.74,550.15 52.20,550.49 52.66,544.99 53.12,548.85 53.58,550.88 54.04,554.44 54.50,549.63 54.96,549.41 55.42,549.97 55.88,548.28 56.34,550.34 56.80,553.79 57.26,553.44 57.72,548.07 58.18,550.73 58.65,550.11 59.11,549.42 59.57,551.74 60.03,553.50 60.49,553.17 60.95,549.53 61.41,552.30 61.87,551.79 62.33,549.89 62.79,551.94 63.25,554.21 63.71,553.09 64.17,549.80 64.63,548.88 65.09,551.30 65.55,551.54 66.01,552.72 66.47,552.68 66.93,553.83 67.39,551.82 67.85,549.62 68.31,551.66 68.77,549.41 69.23,552.08 69.69,553.62 70.15,553.84 70.61,552.34 71.07,550.32 71.53,552.29 71.99,551.23 72.45,552.17 72.91,553.26 73.37,551.24 73.83,549.92 74.29,549.69 74.75,549.44 75.22,552.10 75.68,551.59 76.14,554.28 76.60,552.32 77.06,550.38 77.52,551.86 77.98,551.34 78.44,551.25 78.90,552.97 79.36,554.22 79.82,554.74 80.28,552.46 80.74,552.75 81.20,549.78 81.66,553.10 82.12,552.61 82.58,553.96 83.04,554.90 83.50,551.53 83.96,549.79 84.42,551.48 84.88,551.65 85.34,552.08 85.80,554.81 86.26,554.35 86.72,550.97 87.18,552.90 87.64,552.66 88.10,551.63 88.56,552.76 89.02,554.82 89.48,553.75 89.94,551.09 90.40,552.51 90.86,550.61 91.32,543.15 91.78,544.30 92.25,554.58 92.71,553.81 93.17,551.82 93.63,549.33 94.09,550.50 94.55,550.75 95.01,550.06 95.47,553.79 95.93,553.28 96.39,549.66 96.85,550.22 97.31,552.29 97.77,549.61 98.23,552.35 98.69,549.17 99.15,552.00 99.61,550.92 100.07,547.19 100.53,553.33 100.99,553.78 101.45,551.40 101.91,553.87 102.37,552.41 102.83,553.10 103.29,552.83 103.75,552.75 104.21,551.92 104.67,548.95 105.13,551.44 105.59,553.21 106.05,552.94 106.51,552.14 106.97,551.94 107.43,552.81 107.89,549.88 108.35,553.95 108.82,552.57 109.28,548.22 109.74,551.95 110.20,550.15 110.66,552.00 111.12,551.23 111.58,553.59 112.04,554.69 112.50,551.98 112.96,552.38 113.42,552.36 113.88,552.41 114.34,552.23 114.80,554.12 115.26,554.34 115.72,552.24 116.18,551.58 116.64,551.95 117.10,552.85 117.56,553.05 118.02,554.67 118.48,553.69 118.94,551.78 119.40,551.79 119.86,553.21 120.32,551.99 120.78,551.42 121.24,552.76 121.70,553.97 122.16,550.51 122.62,546.34 123.08,550.82 123.54,550.44 124.00,551.39 124.46,554.22 124.92,552.88 125.38,551.97 125.85,550.69 126.31,549.86 126.77,552.75 127.23,553.42 127.69,554.12 128.15,552.71 128.61,550.50 129.07,553.08 129.53,551.05 129.99,553.36 130.45,553.43 130.91,554.32 131.37,552.82 131.83,551.71 132.29,552.24 132.75,549.77 133.21,551.84 133.67,553.82 134.13,554.55 134.59,551.42 135.05,550.95 135.51,548.69 135.97,551.37 136.43,550.56 136.89,548.09 137.35,553.98 137.81,554.20 138.27,552.40 138.73,546.72 139.19,547.45 139.65,550.01 140.11,552.78 140.57,553.92 141.03,553.62 141.49,550.58 141.95,551.38 142.42,552.05 142.88,549.21 143.34,552.00 143.80,554.36 144.26,554.18 144.72,550.87 145.18,551.21 145.64,553.08 146.10,549.19 146.56,552.76 147.02,551.93 147.48,553.22 147.94,543.44 148.40,546.95 148.86,549.70 149.32,546.32 149.78,547.92 150.24,552.43 150.70,552.76 151.16,550.37 151.62,548.68 152.08,550.87 152.54,550.33 153.00,550.41 153.46,554.47 153.92,554.50 154.38,551.48 154.84,550.73 155.30,552.03 155.76,551.03 156.22,550.27 156.68,553.45 157.14,554.24 157.60,548.84 158.06,551.39 158.52,552.37 158.98,551.99 159.45,548.77 159.91,549.67 160.37,550.42 160.83,550.41 161.29,551.45 161.75,550.06 162.21,549.05 162.67,549.80 163.13,552.30 163.59,552.69 164.05,546.40 164.51,549.65 164.97,546.17 165.43,547.34 165.89,550.14 166.35,552.35 166.81,552.37 167.27,548.36 167.73,546.26 168.19,551.17 168.65,551.54 169.11,551.81 169.57,553.89 170.03,552.76 170.49,550.50 170.95,547.10 171.41,552.23 171.87,552.18 172.33,540.02 172.79,551.51 173.25,550.05 173.71,548.90 174.17,547.98 174.63,548.20 175.09,548.74 175.55,550.50 176.02,552.96 176.48,551.98 176.94,545.36 177.40,549.59 177.86,548.72 178.32,550.98 178.78,550.11 179.24,551.91 179.70,551.24 180.16,550.97 180.62,552.24 181.08,553.93 181.54,552.34 182.00,551.79 182.46,553.23 182.92,553.26 183.38,552.87 183.84,551.91 184.30,553.26" fill="none" stroke="#1585c0" stroke-width="1.8" stroke-linejoin="round"/></svg>
<div class="r" style="left:385px;top:491px;width:1px;height:74px;background:#d0d0d0"></div>
<svg class="r" style="left:0;top:0" width="1290" height="850"><polygon points="207.29999999999998,555.2 207.30,553.68 207.76,548.66 208.22,546.88 208.68,549.48 209.14,553.87 209.60,553.35 210.06,551.24 210.52,551.13 210.98,548.43 211.44,551.77 211.90,550.66 212.36,554.40 212.82,553.11 213.28,552.41 213.74,552.33 214.20,548.00 214.66,549.55 215.12,552.08 215.58,553.96 216.05,553.16 216.51,550.38 216.97,552.28 217.43,551.14 217.89,552.03 218.35,552.74 218.81,555.03 219.27,554.85 219.73,549.45 220.19,547.23 220.65,548.53 221.11,552.37 221.57,550.54 222.03,554.32 222.49,553.86 222.95,549.94 223.41,540.35 223.87,548.10 224.33,550.77 224.79,550.26 225.25,553.67 225.71,553.83 226.17,546.19 226.63,549.51 227.09,549.06 227.55,547.78 228.01,550.65 228.47,554.84 228.93,553.95 229.39,548.38 229.85,548.16 230.31,548.11 230.77,549.01 231.23,548.61 231.69,552.81 232.15,552.93 232.62,548.35 233.08,550.09 233.54,550.65 234.00,553.79 234.46,552.93 234.92,551.60 235.38,553.29 235.84,551.63 236.30,548.68 236.76,547.30 237.22,550.52 237.68,551.68 238.14,552.26 238.60,551.02 239.06,550.31 239.52,548.68 239.98,548.54 240.44,550.70 240.90,550.43 241.36,554.12 241.82,553.84 242.28,547.80 242.74,551.11 243.20,548.99 243.66,543.13 244.12,548.52 244.58,551.08 245.04,554.17 245.50,550.73 245.96,548.50 246.42,549.78 246.88,548.12 247.34,550.74 247.80,553.25 248.26,553.75 248.72,548.10 249.18,550.25 249.65,549.87 250.11,548.38 250.57,551.02 251.03,553.00 251.49,553.48 251.95,548.98 252.41,551.63 252.87,549.71 253.33,549.83 253.79,551.33 254.25,554.05 254.71,552.08 255.17,550.25 255.63,548.50 256.09,551.11 256.55,550.66 257.01,551.50 257.47,553.10 257.93,553.53 258.39,552.11 258.85,550.27 259.31,551.31 259.77,549.48 260.23,551.66 260.69,553.60 261.15,553.94 261.61,551.44 262.07,550.05 262.53,551.04 262.99,550.94 263.45,551.99 263.91,553.21 264.37,551.23 264.83,549.08 265.29,549.69 265.75,548.78 266.22,551.03 266.68,552.22 267.14,554.34 267.60,551.27 268.06,549.76 268.52,551.63 268.98,550.55 269.44,550.76 269.90,553.06 270.36,554.22 270.82,554.77 271.28,552.47 271.74,551.38 272.20,548.52 272.66,552.71 273.12,553.11 273.58,553.87 274.04,554.95 274.50,551.64 274.96,550.55 275.42,551.66 275.88,551.72 276.34,551.78 276.80,554.87 277.26,554.35 277.72,549.51 278.18,553.17 278.64,552.54 279.10,551.00 279.56,552.84 280.02,554.86 280.48,553.74 280.94,550.36 281.40,552.18 281.86,548.50 282.32,542.03 282.78,540.99 283.25,554.66 283.71,554.01 284.17,551.75 284.63,548.22 285.09,550.06 285.55,550.86 286.01,549.84 286.47,553.36 286.93,552.99 287.39,550.19 287.85,550.10 288.31,552.09 288.77,550.47 289.23,552.51 289.69,549.01 290.15,551.74 290.61,550.50 291.07,546.56 291.53,553.24 291.99,553.94 292.45,551.93 292.91,553.97 293.37,552.19 293.83,553.14 294.29,552.54 294.75,552.88 295.21,552.06 295.67,547.96 296.13,552.08 296.59,553.33 297.05,553.07 297.51,551.17 297.97,551.64 298.43,552.54 298.89,549.98 299.35,553.46 299.82,552.39 300.28,546.57 300.74,550.46 301.20,548.87 301.66,551.05 302.12,549.90 302.58,552.81 303.04,554.55 303.50,550.30 303.96,551.26 304.42,550.96 304.88,552.31 305.34,551.26 305.80,554.10 306.26,554.40 306.72,552.13 307.18,552.16 307.64,551.07 308.10,552.26 308.56,552.78 309.02,554.69 309.48,552.98 309.94,551.73 310.40,551.93 310.86,552.94 311.32,552.26 311.78,550.42 312.24,552.12 312.70,553.45 313.16,549.86 313.62,547.69 314.08,550.96 314.54,549.98 315.00,551.65 315.46,554.36 315.92,552.36 316.38,550.40 316.85,549.87 317.31,550.30 317.77,552.84 318.23,553.73 318.69,553.94 319.15,552.29 319.61,549.84 320.07,551.88 320.53,550.52 320.99,553.34 321.45,552.99 321.91,554.06 322.37,552.73 322.83,551.89 323.29,551.32 323.75,547.82 324.21,550.90 324.67,553.19 325.13,554.56 325.59,551.44 326.05,550.66 326.51,549.12 326.97,551.80 327.43,548.33 327.89,549.75 328.35,553.79 328.81,554.05 329.27,551.29 329.73,547.56 330.19,547.46 330.65,549.39 331.11,552.78 331.57,553.47 332.03,553.61 332.49,549.35 332.95,551.01 333.42,552.21 333.88,549.84 334.34,549.87 334.80,554.14 335.26,553.77 335.72,550.86 336.18,551.33 336.64,552.93 337.10,546.76 337.56,552.03 338.02,552.70 338.48,553.09 338.94,544.56 339.40,545.02 339.86,548.42 340.32,546.77 340.78,546.86 341.24,551.79 341.70,552.53 342.16,548.44 342.62,547.61 343.08,549.37 343.54,549.54 344.00,550.92 344.46,554.36 344.92,554.33 345.38,551.87 345.84,550.57 346.30,551.15 346.76,550.98 347.22,549.99 347.68,553.59 348.14,554.27 348.60,547.61 349.06,550.10 349.52,551.79 349.98,551.02 350.45,546.99 350.91,549.02 351.37,549.74 351.83,549.69 352.29,551.15 352.75,549.48 353.21,547.70 353.67,549.50 354.13,551.45 354.59,552.39 355.05,547.94 355.51,548.90 355.97,546.77 356.43,546.74 356.89,548.75 357.35,551.40 357.81,552.56 358.27,547.47 358.73,544.53 359.19,550.24 359.65,551.86 360.11,551.00 360.57,553.52 361.03,551.44 361.49,549.28 361.95,546.50 362.41,550.62 362.87,551.03 363.33,539.40 363.79,551.92 364.25,549.73 364.71,545.08 365.17,548.53 365.63,547.35 366.09,549.04 366.55,550.52 367.02,552.74 367.48,552.16 367.94,544.34 368.40,548.88 368.86,548.05 369.32,550.12 369.78,548.20 370.24,551.35 370.70,551.99 371.16,549.26 371.62,551.95 372.08,553.59 372.54,551.67 373.00,550.98 373.46,552.80 373.92,552.82 374.38,552.71 374.84,550.52 375.30,552.13 375.29999999999995,555.2" fill="#e6f2f9"/><polyline points="207.30,553.68 207.76,548.66 208.22,546.88 208.68,549.48 209.14,553.87 209.60,553.35 210.06,551.24 210.52,551.13 210.98,548.43 211.44,551.77 211.90,550.66 212.36,554.40 212.82,553.11 213.28,552.41 213.74,552.33 214.20,548.00 214.66,549.55 215.12,552.08 215.58,553.96 216.05,553.16 216.51,550.38 216.97,552.28 217.43,551.14 217.89,552.03 218.35,552.74 218.81,555.03 219.27,554.85 219.73,549.45 220.19,547.23 220.65,548.53 221.11,552.37 221.57,550.54 222.03,554.32 222.49,553.86 222.95,549.94 223.41,540.35 223.87,548.10 224.33,550.77 224.79,550.26 225.25,553.67 225.71,553.83 226.17,546.19 226.63,549.51 227.09,549.06 227.55,547.78 228.01,550.65 228.47,554.84 228.93,553.95 229.39,548.38 229.85,548.16 230.31,548.11 230.77,549.01 231.23,548.61 231.69,552.81 232.15,552.93 232.62,548.35 233.08,550.09 233.54,550.65 234.00,553.79 234.46,552.93 234.92,551.60 235.38,553.29 235.84,551.63 236.30,548.68 236.76,547.30 237.22,550.52 237.68,551.68 238.14,552.26 238.60,551.02 239.06,550.31 239.52,548.68 239.98,548.54 240.44,550.70 240.90,550.43 241.36,554.12 241.82,553.84 242.28,547.80 242.74,551.11 243.20,548.99 243.66,543.13 244.12,548.52 244.58,551.08 245.04,554.17 245.50,550.73 245.96,548.50 246.42,549.78 246.88,548.12 247.34,550.74 247.80,553.25 248.26,553.75 248.72,548.10 249.18,550.25 249.65,549.87 250.11,548.38 250.57,551.02 251.03,553.00 251.49,553.48 251.95,548.98 252.41,551.63 252.87,549.71 253.33,549.83 253.79,551.33 254.25,554.05 254.71,552.08 255.17,550.25 255.63,548.50 256.09,551.11 256.55,550.66 257.01,551.50 257.47,553.10 257.93,553.53 258.39,552.11 258.85,550.27 259.31,551.31 259.77,549.48 260.23,551.66 260.69,553.60 261.15,553.94 261.61,551.44 262.07,550.05 262.53,551.04 262.99,550.94 263.45,551.99 263.91,553.21 264.37,551.23 264.83,549.08 265.29,549.69 265.75,548.78 266.22,551.03 266.68,552.22 267.14,554.34 267.60,551.27 268.06,549.76 268.52,551.63 268.98,550.55 269.44,550.76 269.90,553.06 270.36,554.22 270.82,554.77 271.28,552.47 271.74,551.38 272.20,548.52 272.66,552.71 273.12,553.11 273.58,553.87 274.04,554.95 274.50,551.64 274.96,550.55 275.42,551.66 275.88,551.72 276.34,551.78 276.80,554.87 277.26,554.35 277.72,549.51 278.18,553.17 278.64,552.54 279.10,551.00 279.56,552.84 280.02,554.86 280.48,553.74 280.94,550.36 281.40,552.18 281.86,548.50 282.32,542.03 282.78,540.99 283.25,554.66 283.71,554.01 284.17,551.75 284.63,548.22 285.09,550.06 285.55,550.86 286.01,549.84 286.47,553.36 286.93,552.99 287.39,550.19 287.85,550.10 288.31,552.09 288.77,550.47 289.23,552.51 289.69,549.01 290.15,551.74 290.61,550.50 291.07,546.56 291.53,553.24 291.99,553.94 292.45,551.93 292.91,553.97 293.37,552.19 293.83,553.14 294.29,552.54 294.75,552.88 295.21,552.06 295.67,547.96 296.13,552.08 296.59,553.33 297.05,553.07 297.51,551.17 297.97,551.64 298.43,552.54 298.89,549.98 299.35,553.46 299.82,552.39 300.28,546.57 300.74,550.46 301.20,548.87 301.66,551.05 302.12,549.90 302.58,552.81 303.04,554.55 303.50,550.30 303.96,551.26 304.42,550.96 304.88,552.31 305.34,551.26 305.80,554.10 306.26,554.40 306.72,552.13 307.18,552.16 307.64,551.07 308.10,552.26 308.56,552.78 309.02,554.69 309.48,552.98 309.94,551.73 310.40,551.93 310.86,552.94 311.32,552.26 311.78,550.42 312.24,552.12 312.70,553.45 313.16,549.86 313.62,547.69 314.08,550.96 314.54,549.98 315.00,551.65 315.46,554.36 315.92,552.36 316.38,550.40 316.85,549.87 317.31,550.30 317.77,552.84 318.23,553.73 318.69,553.94 319.15,552.29 319.61,549.84 320.07,551.88 320.53,550.52 320.99,553.34 321.45,552.99 321.91,554.06 322.37,552.73 322.83,551.89 323.29,551.32 323.75,547.82 324.21,550.90 324.67,553.19 325.13,554.56 325.59,551.44 326.05,550.66 326.51,549.12 326.97,551.80 327.43,548.33 327.89,549.75 328.35,553.79 328.81,554.05 329.27,551.29 329.73,547.56 330.19,547.46 330.65,549.39 331.11,552.78 331.57,553.47 332.03,553.61 332.49,549.35 332.95,551.01 333.42,552.21 333.88,549.84 334.34,549.87 334.80,554.14 335.26,553.77 335.72,550.86 336.18,551.33 336.64,552.93 337.10,546.76 337.56,552.03 338.02,552.70 338.48,553.09 338.94,544.56 339.40,545.02 339.86,548.42 340.32,546.77 340.78,546.86 341.24,551.79 341.70,552.53 342.16,548.44 342.62,547.61 343.08,549.37 343.54,549.54 344.00,550.92 344.46,554.36 344.92,554.33 345.38,551.87 345.84,550.57 346.30,551.15 346.76,550.98 347.22,549.99 347.68,553.59 348.14,554.27 348.60,547.61 349.06,550.10 349.52,551.79 349.98,551.02 350.45,546.99 350.91,549.02 351.37,549.74 351.83,549.69 352.29,551.15 352.75,549.48 353.21,547.70 353.67,549.50 354.13,551.45 354.59,552.39 355.05,547.94 355.51,548.90 355.97,546.77 356.43,546.74 356.89,548.75 357.35,551.40 357.81,552.56 358.27,547.47 358.73,544.53 359.19,550.24 359.65,551.86 360.11,551.00 360.57,553.52 361.03,551.44 361.49,549.28 361.95,546.50 362.41,550.62 362.87,551.03 363.33,539.40 363.79,551.92 364.25,549.73 364.71,545.08 365.17,548.53 365.63,547.35 366.09,549.04 366.55,550.52 367.02,552.74 367.48,552.16 367.94,544.34 368.40,548.88 368.86,548.05 369.32,550.12 369.78,548.20 370.24,551.35 370.70,551.99 371.16,549.26 371.62,551.95 372.08,553.59 372.54,551.67 373.00,550.98 373.46,552.80 373.92,552.82 374.38,552.71 374.84,550.52 375.30,552.13" fill="none" stroke="#1585c0" stroke-width="1.8" stroke-linejoin="round"/></svg>
<div class="r" style="left:4px;top:635px;width:383px;height:1px;background:#666"></div>
<div class="r" style="left:4px;top:636px;width:383px;height:30px;background:#deebf5"></div>
<svg class="r" style="left:372px;top:647px" width="6" height="8"><path d="M0 0 L4.5 3.5 L0 7 Z" fill="#555"/></svg>
<div class="r" style="left:4px;top:725px;width:383px;height:1px;background:#666"></div>
<div class="r" style="left:4px;top:785px;width:383px;height:1px;background:#666"></div>
<div class="r" style="left:4px;top:845px;width:383px;height:1px;background:#666"></div>
<div class="r" style="left:408px;top:635px;width:875px;height:1px;background:#666"></div>
<div class="r" style="left:408px;top:636px;width:875px;height:30px;background:#f6f6f6"></div>
<div class="r" style="left:408px;top:666px;width:875px;height:1px;background:#dadada"></div>
<svg class="r" style="left:980px;top:644px" width="14" height="14" viewBox="0 0 14 14"><rect x="4.5" y="0.5" width="8" height="8" rx="1" fill="#fff" stroke="#6f6f6f" stroke-width="1"/><path d="M6.5 6.5 L9.5 3.5" fill="none" stroke="#6f6f6f" stroke-width="1.3"/><path d="M7 2.3 L10.7 2.3 L10.7 6 Z" fill="#6f6f6f"/><path d="M4.5 5.5 L2.5 5.5 Q1.5 5.5 1.5 6.5 L1.5 10.5 Q1.5 11.5 2.5 11.5 L6.5 11.5 Q7.5 11.5 7.5 10.5 L7.5 8.5" fill="none" stroke="#6f6f6f" stroke-width="1"/></svg>
<div class="r" style="left:1125px;top:644px;width:9px;height:15px;background:#058dc7"></div>
<div class="r" style="left:408px;top:667px;width:875px;height:30px;background:#ffffff"></div>
<div class="r" style="left:408px;top:697px;width:875px;height:1px;background:#dadada"></div>
<svg class="r" style="left:980px;top:675px" width="14" height="14" viewBox="0 0 14 14"><rect x="4.5" y="0.5" width="8" height="8" rx="1" fill="#fff" stroke="#6f6f6f" stroke-width="1"/><path d="M6.5 6.5 L9.5 3.5" fill="none" stroke="#6f6f6f" stroke-width="1.3"/><path d="M7 2.3 L10.7 2.3 L10.7 6 Z" fill="#6f6f6f"/><path d="M4.5 5.5 L2.5 5.5 Q1.5 5.5 1.5 6.5 L1.5 10.5 Q1.5 11.5 2.5 11.5 L6.5 11.5 Q7.5 11.5 7.5 10.5 L7.5 8.5" fill="none" stroke="#6f6f6f" stroke-width="1"/></svg>
<div class="r" style="left:1125px;top:675px;width:9px;height:15px;background:#058dc7"></div>
<div class="r" style="left:408px;top:698px;width:875px;height:30px;background:#f6f6f6"></div>
<div class="r" style="left:408px;top:728px;width:875px;height:1px;background:#dadada"></div>
<svg class="r" style="left:980px;top:706px" width="14" height="14" viewBox="0 0 14 14"><rect x="4.5" y="0.5" width="8" height="8" rx="1" fill="#fff" stroke="#6f6f6f" stroke-width="1"/><path d="M6.5 6.5 L9.5 3.5" fill="none" stroke="#6f6f6f" stroke-width="1.3"/><path d="M7 2.3 L10.7 2.3 L10.7 6 Z" fill="#6f6f6f"/><path d="M4.5 5.5 L2.5 5.5 Q1.5 5.5 1.5 6.5 L1.5 10.5 Q1.5 11.5 2.5 11.5 L6.5 11.5 Q7.5 11.5 7.5 10.5 L7.5 8.5" fill="none" stroke="#6f6f6f" stroke-width="1"/></svg>
<div class="r" style="left:1125px;top:706px;width:8px;height:15px;background:#058dc7"></div>
<div class="r" style="left:408px;top:729px;width:875px;height:30px;background:#ffffff"></div>
<div class="r" style="left:408px;top:759px;width:875px;height:1px;background:#dadada"></div>
<svg class="r" style="left:980px;top:737px" width="14" height="14" viewBox="0 0 14 14"><rect x="4.5" y="0.5" width="8" height="8" rx="1" fill="#fff" stroke="#6f6f6f" stroke-width="1"/><path d="M6.5 6.5 L9.5 3.5" fill="none" stroke="#6f6f6f" stroke-width="1.3"/><path d="M7 2.3 L10.7 2.3 L10.7 6 Z" fill="#6f6f6f"/><path d="M4.5 5.5 L2.5 5.5 Q1.5 5.5 1.5 6.5 L1.5 10.5 Q1.5 11.5 2.5 11.5 L6.5 11.5 Q7.5 11.5 7.5 10.5 L7.5 8.5" fill="none" stroke="#6f6f6f" stroke-width="1"/></svg>
<div class="r" style="left:1125px;top:737px;width:7px;height:15px;background:#058dc7"></div>
<div class="r" style="left:408px;top:760px;width:875px;height:30px;background:#f6f6f6"></div>
<div class="r" style="left:408px;top:790px;width:875px;height:1px;background:#dadada"></div>
<svg class="r" style="left:980px;top:768px" width="14" height="14" viewBox="0 0 14 14"><rect x="4.5" y="0.5" width="8" height="8" rx="1" fill="#fff" stroke="#6f6f6f" stroke-width="1"/><path d="M6.5 6.5 L9.5 3.5" fill="none" stroke="#6f6f6f" stroke-width="1.3"/><path d="M7 2.3 L10.7 2.3 L10.7 6 Z" fill="#6f6f6f"/><path d="M4.5 5.5 L2.5 5.5 Q1.5 5.5 1.5 6.5 L1.5 10.5 Q1.5 11.5 2.5 11.5 L6.5 11.5 Q7.5 11.5 7.5 10.5 L7.5 8.5" fill="none" stroke="#6f6f6f" stroke-width="1"/></svg>
<div class="r" style="left:1125px;top:768px;width:7px;height:15px;background:#058dc7"></div>
<div class="r" style="left:408px;top:791px;width:875px;height:30px;background:#ffffff"></div>
<div class="r" style="left:408px;top:821px;width:875px;height:1px;background:#dadada"></div>
<svg class="r" style="left:980px;top:799px" width="14" height="14" viewBox="0 0 14 14"><rect x="4.5" y="0.5" width="8" height="8" rx="1" fill="#fff" stroke="#6f6f6f" stroke-width="1"/><path d="M6.5 6.5 L9.5 3.5" fill="none" stroke="#6f6f6f" stroke-width="1.3"/><path d="M7 2.3 L10.7 2.3 L10.7 6 Z" fill="#6f6f6f"/><path d="M4.5 5.5 L2.5 5.5 Q1.5 5.5 1.5 6.5 L1.5 10.5 Q1.5 11.5 2.5 11.5 L6.5 11.5 Q7.5 11.5 7.5 10.5 L7.5 8.5" fill="none" stroke="#6f6f6f" stroke-width="1"/></svg>
<div class="r" style="left:1125px;top:799px;width:6px;height:15px;background:#058dc7"></div>
<div class="r" style="left:408px;top:822px;width:875px;height:30px;background:#f6f6f6"></div>
<div class="r" style="left:408px;top:852px;width:875px;height:1px;background:#dadada"></div>
<svg class="r" style="left:980px;top:830px" width="14" height="14" viewBox="0 0 14 14"><rect x="4.5" y="0.5" width="8" height="8" rx="1" fill="#fff" stroke="#6f6f6f" stroke-width="1"/><path d="M6.5 6.5 L9.5 3.5" fill="none" stroke="#6f6f6f" stroke-width="1.3"/><path d="M7 2.3 L10.7 2.3 L10.7 6 Z" fill="#6f6f6f"/><path d="M4.5 5.5 L2.5 5.5 Q1.5 5.5 1.5 6.5 L1.5 10.5 Q1.5 11.5 2.5 11.5 L6.5 11.5 Q7.5 11.5 7.5 10.5 L7.5 8.5" fill="none" stroke="#6f6f6f" stroke-width="1"/></svg>
<div class="r" style="left:1125px;top:830px;width:5px;height:15px;background:#058dc7"></div>
<svg class="r" style="left:0;top:0" width="1290" height="850" font-family='"Liberation Sans", Arial, sans-serif'>
<text x="71.50" y="32.00" font-size="14" fill="#222" text-anchor="start" letter-spacing="-0.2">All Users</text>
<text x="71.60" y="47.00" font-size="11.2" fill="#666" text-anchor="start" letter-spacing="-0.1">100.00% Pageviews</text>
<text x="417.20" y="37.00" font-size="14" fill="#666" text-anchor="start" letter-spacing="-0.1">+ Add Segment</text>
<text x="1079.80" y="23.00" font-size="16" fill="#333" text-anchor="start" letter-spacing="-0.22">Jan 1, 2019 - Jan 1, 2020</text>
<text x="13.60" y="96.00" font-size="11.9" font-weight="700" fill="#222" text-anchor="start">Overview</text>
<text x="22.20" y="135.00" font-size="10.75" fill="#444" text-anchor="start">Pageviews</text>
<text x="104.30" y="134.00" font-size="11" font-weight="700" fill="#333" text-anchor="start">vs.</text>
<text x="131.80" y="135.00" font-size="10.96" fill="#37639a" text-anchor="start">Select a metric</text>
<text x="1110.00" y="135.00" font-size="10.1" font-weight="700" fill="#333" text-anchor="start">Hourly</text>
<text x="1158.10" y="135.00" font-size="10.1" font-weight="700" fill="#333" text-anchor="start" letter-spacing="-0.15">Day</text>
<text x="1191.40" y="135.00" font-size="10.3" font-weight="700" fill="#333" text-anchor="start">Week</text>
<text x="1233.40" y="135.00" font-size="10.3" font-weight="700" fill="#333" text-anchor="start">Month</text>
<text x="32.70" y="175.00" font-size="12.8" fill="#222" text-anchor="start">Pageviews</text>
<text x="16.90" y="197.00" font-size="10.8" fill="#444" text-anchor="start">200</text>
<text x="16.90" y="266.00" font-size="10.8" fill="#444" text-anchor="start">100</text>
<text x="119.21" y="338.00" font-size="11" fill="#444" text-anchor="middle">February 2019</text>
<text x="214.25" y="338.00" font-size="11" fill="#444" text-anchor="middle">March 2019</text>
<text x="319.46" y="338.00" font-size="11" fill="#444" text-anchor="middle">April 2019</text>
<text x="421.28" y="338.00" font-size="11" fill="#444" text-anchor="middle">May 2019</text>
<text x="526.49" y="338.00" font-size="11" fill="#444" text-anchor="middle">June 2019</text>
<text x="628.31" y="338.00" font-size="11" fill="#444" text-anchor="middle">July 2019</text>
<text x="733.53" y="338.00" font-size="11" fill="#444" text-anchor="middle">August 2019</text>
<text x="838.74" y="338.00" font-size="11" fill="#444" text-anchor="middle">September 2019</text>
<text x="940.56" y="338.00" font-size="11" fill="#444" text-anchor="middle">October 2019</text>
<text x="1045.78" y="338.00" font-size="11" fill="#444" text-anchor="middle">November 2019</text>
<text x="1147.60" y="338.00" font-size="11" fill="#444" text-anchor="middle">December 2019</text>
<text x="1232.00" y="338.00" font-size="11.3" fill="#444" text-anchor="start">Janua...</text>
<text x="13.70" y="402.00" font-size="12.6" fill="#333" text-anchor="start">Pageviews</text>
<text x="13.50" y="432.00" font-size="23.1" fill="#222" text-anchor="start" letter-spacing="0.3">16,119</text>
<text x="204.70" y="402.00" font-size="12.6" fill="#333" text-anchor="start">Unique Pageviews</text>
<text x="204.50" y="432.00" font-size="23.1" fill="#222" text-anchor="start">7,620</text>
<text x="395.70" y="402.00" font-size="12.6" fill="#333" text-anchor="start">Avg. Time on Page</text>
<text x="395.50" y="432.00" font-size="23.1" fill="#222" text-anchor="start" letter-spacing="0.2">00:00:18</text>
<text x="586.70" y="402.00" font-size="12.6" fill="#333" text-anchor="start">Bounce Rate</text>
<text x="586.50" y="432.00" font-size="23.1" fill="#222" text-anchor="start" letter-spacing="-0.1">0.33%</text>
<text x="777.70" y="402.00" font-size="12.6" fill="#333" text-anchor="start">% Exit</text>
<text x="777.50" y="432.00" font-size="23.1" fill="#222" text-anchor="start" letter-spacing="-0.15">45.49%</text>
<text x="968.70" y="402.00" font-size="12.6" fill="#333" text-anchor="start">AdSense Revenue</text>
<text x="968.50" y="432.00" font-size="23.1" fill="#222" text-anchor="start" letter-spacing="0.3">$12.57</text>
<text x="14.10" y="502.00" font-size="12.6" fill="#333" text-anchor="start" letter-spacing="0.05">AdSense Page Impressions</text>
<text x="13.90" y="531.00" font-size="23.1" fill="#222" text-anchor="start" letter-spacing="-0.15">5,651</text>
<text x="205.10" y="502.00" font-size="12.6" fill="#333" text-anchor="start" letter-spacing="0.05">AdSense Ad Units Viewed</text>
<text x="204.90" y="531.00" font-size="23.1" fill="#222" text-anchor="start" letter-spacing="0.1">23,235</text>
<text x="10.30" y="629.00" font-size="12.05" font-weight="700" fill="#222" text-anchor="start">Site Content</text>
<text x="10.30" y="655.00" font-size="12.5" fill="#222" text-anchor="start">Page</text>
<text x="10.30" y="685.00" font-size="12.5" fill="#3777b0" text-anchor="start">Page Title</text>
<text x="10.30" y="719.00" font-size="12.05" font-weight="700" fill="#222" text-anchor="start">Site Search</text>
<text x="10.30" y="745.00" font-size="12.5" fill="#3777b0" text-anchor="start">Search Term</text>
<text x="10.30" y="779.00" font-size="12.05" font-weight="700" fill="#222" text-anchor="start">Events</text>
<text x="10.30" y="805.00" font-size="12.5" fill="#3777b0" text-anchor="start">Event Category</text>
<text x="10.30" y="839.00" font-size="12.05" font-weight="700" fill="#222" text-anchor="start">AdSense</text>
<text x="437.40" y="629.00" font-size="12.05" font-weight="700" fill="#222" text-anchor="start">Page</text>
<text x="1108.40" y="629.00" font-size="12.05" font-weight="700" fill="#222" text-anchor="end">Pageviews</text>
<text x="1125.80" y="629.00" font-size="11.75" font-weight="700" fill="#222" text-anchor="start">% Pageviews</text>
<text x="416.80" y="655.00" font-size="12" fill="#222" text-anchor="start">1.</text>
<text x="436.90" y="655.00" font-size="13.15" fill="#3777b0" text-anchor="start">/blog/2018/mvc-password-validation-with-regexp/</text>
<text x="1108.40" y="655.00" font-size="12" fill="#333" text-anchor="end">1,555</text>
<text x="1144.20" y="655.00" font-size="11.9" fill="#333" text-anchor="start">9.65%</text>
<text x="416.80" y="686.00" font-size="12" fill="#222" text-anchor="start">2.</text>
<text x="436.90" y="686.00" font-size="13.15" fill="#3777b0" text-anchor="start">/blog/2017/using-logman-to-start-perfmon-with-powershell/</text>
<text x="1108.40" y="686.00" font-size="12" fill="#333" text-anchor="end">1,523</text>
<text x="1144.20" y="686.00" font-size="11.9" fill="#333" text-anchor="start">9.45%</text>
<text x="416.80" y="717.00" font-size="12" fill="#222" text-anchor="start">3.</text>
<text x="436.90" y="717.00" font-size="13.15" fill="#3777b0" text-anchor="start">/blog/2018/webconfig-aspnetmvc-security-and-perf/</text>
<text x="1108.40" y="717.00" font-size="12" fill="#333" text-anchor="end">1,324</text>
<text x="1143.20" y="717.00" font-size="11.9" fill="#333" text-anchor="start">8.21%</text>
<text x="416.80" y="748.00" font-size="12" fill="#222" text-anchor="start">4.</text>
<text x="436.90" y="748.00" font-size="13.15" fill="#3777b0" text-anchor="start">/blog/2017/query-tfs-build-history/</text>
<text x="1108.40" y="748.00" font-size="12" fill="#333" text-anchor="end">1,239</text>
<text x="1142.20" y="748.00" font-size="11.9" fill="#333" text-anchor="start">7.69%</text>
<text x="416.80" y="779.00" font-size="12" fill="#222" text-anchor="start">5.</text>
<text x="436.90" y="779.00" font-size="13.15" fill="#3777b0" text-anchor="start">/blog/2017/MSTestv2-RunSettings-forSeleniumTests/</text>
<text x="1108.40" y="779.00" font-size="12" fill="#333" text-anchor="end">1,196</text>
<text x="1142.20" y="779.00" font-size="11.9" fill="#333" text-anchor="start">7.42%</text>
<text x="416.80" y="810.00" font-size="12" fill="#222" text-anchor="start">6.</text>
<text x="436.90" y="810.00" font-size="13.15" fill="#3777b0" text-anchor="start">/</text>
<text x="1108.40" y="810.00" font-size="12" fill="#333" text-anchor="end">1,101</text>
<text x="1141.20" y="810.00" font-size="11.9" fill="#333" text-anchor="start">6.83%</text>
<text x="416.80" y="841.00" font-size="12" fill="#222" text-anchor="start">7.</text>
<text x="436.90" y="841.00" font-size="13.15" fill="#3777b0" text-anchor="start">/blog/2018/webhint-and-nwebsec-to-secure-aspnetcoreapp/</text>
<text x="1108.40" y="841.00" font-size="12" fill="#333" text-anchor="end">927</text>
<text x="1140.20" y="841.00" font-size="11.9" fill="#333" text-anchor="start">5.75%</text>
</svg>
</body></html>
